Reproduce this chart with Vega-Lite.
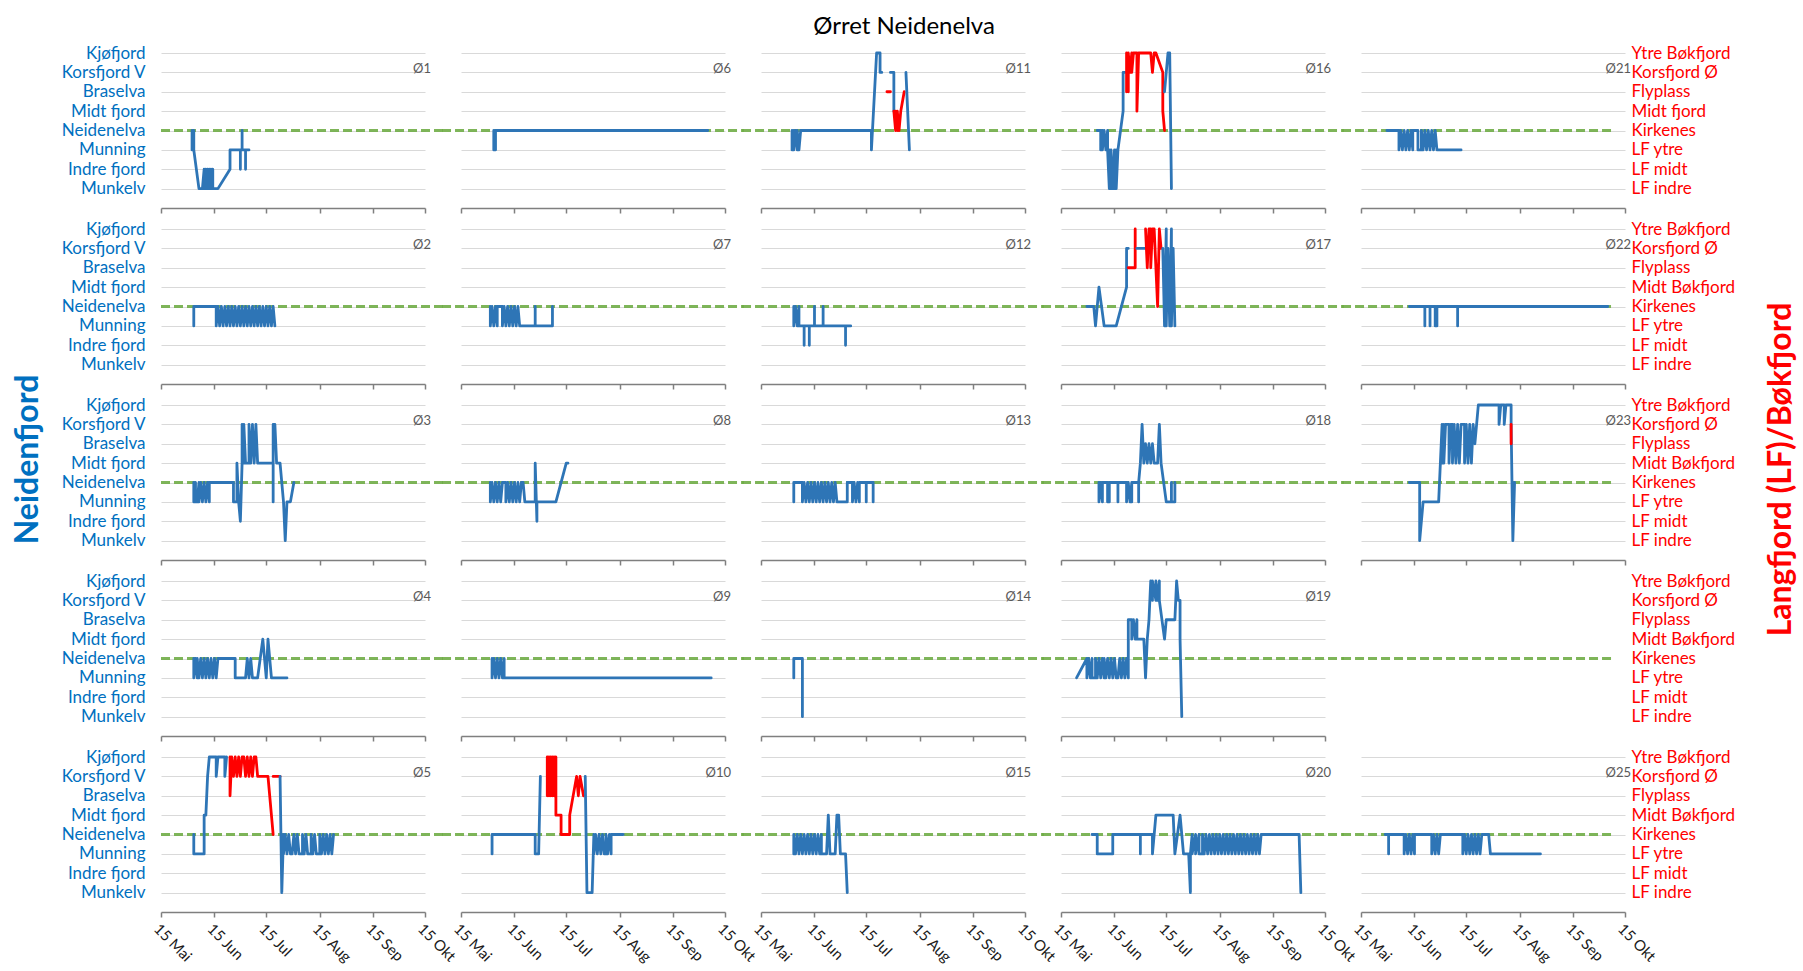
{
"$schema":"https://vega.github.io/schema/vega-lite/v6.json",
"background":"white",
"padding":{"left":11,"top":15,"right":0,"bottom":0},
"title":{"text":"Ørret Neidenelva","fontSize":24,"font":"Lato","fontWeight":"normal","color":"#000000","offset":5,"anchor":"middle"},
"data":{"format":{"parse":{"d":"date:'%m-%d'"}},"values":[
{"p":1,"g":1,"s":"N","d":"06-02","v":3},{"p":1,"g":1,"s":"N","d":"06-02","v":2},{"p":1,"g":1,"s":"N","d":"06-03","v":3},{"p":1,"g":1,"s":"N","d":"06-03","v":2},{"p":1,"g":1,"s":"N","d":"06-06","v":0},{"p":1,"g":1,"s":"N","d":"06-08","v":0},{"p":1,"g":1,"s":"N","d":"06-09","v":1},{"p":1,"g":1,"s":"N","d":"06-09","v":0},{"p":1,"g":1,"s":"N","d":"06-10","v":1},{"p":1,"g":1,"s":"N","d":"06-10","v":0},{"p":1,"g":1,"s":"N","d":"06-11","v":1},{"p":1,"g":1,"s":"N","d":"06-11","v":0},{"p":1,"g":1,"s":"N","d":"06-12","v":1},{"p":1,"g":1,"s":"N","d":"06-12","v":0},{"p":1,"g":1,"s":"N","d":"06-13","v":1},{"p":1,"g":1,"s":"N","d":"06-13","v":0},{"p":1,"g":1,"s":"N","d":"06-14","v":1},{"p":1,"g":1,"s":"N","d":"06-14","v":0},{"p":1,"g":1,"s":"N","d":"06-17","v":0},{"p":1,"g":1,"s":"N","d":"06-24","v":1},{"p":1,"g":1,"s":"N","d":"06-24","v":2},{"p":1,"g":1,"s":"N","d":"06-30","v":2},{"p":1,"g":1,"s":"N","d":"06-30","v":1},{"p":1,"g":1,"s":"N","d":"06-30","v":2},{"p":1,"g":1,"s":"N","d":"07-01","v":2},{"p":1,"g":1,"s":"N","d":"07-01","v":3},{"p":1,"g":1,"s":"N","d":"07-01","v":2},{"p":1,"g":1,"s":"N","d":"07-03","v":2},{"p":1,"g":1,"s":"N","d":"07-03","v":1},{"p":1,"g":1,"s":"N","d":"07-03","v":2},{"p":1,"g":1,"s":"N","d":"07-05","v":2},

{"p":6,"g":1,"s":"N","d":"06-03","v":3},{"p":6,"g":1,"s":"N","d":"06-03","v":2},{"p":6,"g":1,"s":"N","d":"06-04","v":3},{"p":6,"g":1,"s":"N","d":"06-04","v":2},{"p":6,"g":1,"s":"N","d":"06-04","v":3},{"p":6,"g":1,"s":"N","d":"10-05","v":3},

{"p":11,"g":1,"s":"N","d":"06-02","v":3},{"p":11,"g":1,"s":"N","d":"06-02","v":2},{"p":11,"g":1,"s":"N","d":"06-03","v":3},{"p":11,"g":1,"s":"N","d":"06-03","v":2},{"p":11,"g":1,"s":"N","d":"06-04","v":3},{"p":11,"g":1,"s":"N","d":"06-05","v":2},{"p":11,"g":1,"s":"N","d":"06-05","v":3},{"p":11,"g":1,"s":"N","d":"06-06","v":2},{"p":11,"g":1,"s":"N","d":"06-07","v":3},{"p":11,"g":1,"s":"N","d":"07-18","v":3},{"p":11,"g":1,"s":"N","d":"07-18","v":2},{"p":11,"g":1,"s":"N","d":"07-21","v":7},{"p":11,"g":1,"s":"N","d":"07-23","v":7},{"p":11,"g":1,"s":"N","d":"07-23","v":6},{"p":11,"g":1,"s":"N","d":"07-24","v":6},
{"p":11,"g":2,"s":"B","d":"07-27","v":5},{"p":11,"g":2,"s":"B","d":"07-29","v":5},
{"p":11,"g":3,"s":"N","d":"07-29","v":6},{"p":11,"g":3,"s":"N","d":"07-31","v":6},{"p":11,"g":3,"s":"N","d":"07-31","v":4},
{"p":11,"g":4,"s":"B","d":"07-31","v":4},{"p":11,"g":4,"s":"B","d":"08-01","v":3},{"p":11,"g":4,"s":"B","d":"08-01","v":4},{"p":11,"g":4,"s":"B","d":"08-02","v":3},{"p":11,"g":4,"s":"B","d":"08-02","v":4},{"p":11,"g":4,"s":"B","d":"08-03","v":3},{"p":11,"g":4,"s":"B","d":"08-04","v":4},{"p":11,"g":4,"s":"B","d":"08-06","v":5},
{"p":11,"g":5,"s":"N","d":"08-07","v":6},{"p":11,"g":5,"s":"N","d":"08-09","v":2},

{"p":16,"g":1,"s":"N","d":"06-05","v":3},{"p":16,"g":1,"s":"N","d":"06-07","v":3},{"p":16,"g":1,"s":"N","d":"06-07","v":2},{"p":16,"g":1,"s":"N","d":"06-08","v":3},{"p":16,"g":1,"s":"N","d":"06-08","v":2},{"p":16,"g":1,"s":"N","d":"06-09","v":3},{"p":16,"g":1,"s":"N","d":"06-10","v":2},{"p":16,"g":1,"s":"N","d":"06-11","v":3},{"p":16,"g":1,"s":"N","d":"06-11","v":2},{"p":16,"g":1,"s":"N","d":"06-12","v":0},{"p":16,"g":1,"s":"N","d":"06-12","v":2},{"p":16,"g":1,"s":"N","d":"06-13","v":0},{"p":16,"g":1,"s":"N","d":"06-13","v":2},{"p":16,"g":1,"s":"N","d":"06-14","v":0},{"p":16,"g":1,"s":"N","d":"06-15","v":2},{"p":16,"g":1,"s":"N","d":"06-15","v":0},{"p":16,"g":1,"s":"N","d":"06-16","v":2},{"p":16,"g":1,"s":"N","d":"06-16","v":0},{"p":16,"g":1,"s":"N","d":"06-17","v":2},{"p":16,"g":1,"s":"N","d":"06-20","v":4},{"p":16,"g":1,"s":"N","d":"06-20","v":6},{"p":16,"g":1,"s":"N","d":"06-21","v":6},
{"p":16,"g":2,"s":"B","d":"06-22","v":5},{"p":16,"g":2,"s":"B","d":"06-22","v":7},{"p":16,"g":2,"s":"B","d":"06-23","v":5},{"p":16,"g":2,"s":"B","d":"06-23","v":7},{"p":16,"g":2,"s":"B","d":"06-24","v":6},{"p":16,"g":2,"s":"B","d":"06-25","v":7},{"p":16,"g":2,"s":"B","d":"06-25","v":6},{"p":16,"g":2,"s":"B","d":"06-26","v":7},{"p":16,"g":2,"s":"B","d":"06-28","v":7},{"p":16,"g":2,"s":"B","d":"06-28","v":4},{"p":16,"g":2,"s":"B","d":"06-29","v":7},{"p":16,"g":2,"s":"B","d":"07-06","v":7},{"p":16,"g":2,"s":"B","d":"07-07","v":6},{"p":16,"g":2,"s":"B","d":"07-08","v":7},{"p":16,"g":2,"s":"B","d":"07-09","v":7},{"p":16,"g":2,"s":"B","d":"07-13","v":6},{"p":16,"g":2,"s":"B","d":"07-13","v":4},{"p":16,"g":2,"s":"B","d":"07-14","v":3},
{"p":16,"g":3,"s":"N","d":"07-14","v":5},{"p":16,"g":3,"s":"N","d":"07-16","v":7},{"p":16,"g":3,"s":"N","d":"07-17","v":7},{"p":16,"g":3,"s":"N","d":"07-18","v":0},

{"p":21,"g":1,"s":"N","d":"05-30","v":3},{"p":21,"g":1,"s":"N","d":"06-06","v":3},{"p":21,"g":1,"s":"N","d":"06-06","v":2},{"p":21,"g":1,"s":"N","d":"06-07","v":3},{"p":21,"g":1,"s":"N","d":"06-08","v":2},{"p":21,"g":1,"s":"N","d":"06-09","v":3},{"p":21,"g":1,"s":"N","d":"06-10","v":2},{"p":21,"g":1,"s":"N","d":"06-11","v":3},{"p":21,"g":1,"s":"N","d":"06-12","v":2},{"p":21,"g":1,"s":"N","d":"06-13","v":3},{"p":21,"g":1,"s":"N","d":"06-14","v":2},{"p":21,"g":1,"s":"N","d":"06-14","v":3},{"p":21,"g":1,"s":"N","d":"06-17","v":3},{"p":21,"g":1,"s":"N","d":"06-17","v":2},{"p":21,"g":1,"s":"N","d":"06-19","v":2},{"p":21,"g":1,"s":"N","d":"06-19","v":3},{"p":21,"g":1,"s":"N","d":"06-20","v":2},{"p":21,"g":1,"s":"N","d":"06-21","v":3},{"p":21,"g":1,"s":"N","d":"06-22","v":2},{"p":21,"g":1,"s":"N","d":"06-23","v":3},{"p":21,"g":1,"s":"N","d":"06-24","v":2},{"p":21,"g":1,"s":"N","d":"06-25","v":3},{"p":21,"g":1,"s":"N","d":"06-26","v":2},{"p":21,"g":1,"s":"N","d":"06-27","v":3},{"p":21,"g":1,"s":"N","d":"06-28","v":2},{"p":21,"g":1,"s":"N","d":"07-12","v":2},

{"p":2,"g":1,"s":"N","d":"06-03","v":2},{"p":2,"g":1,"s":"N","d":"06-03","v":3},{"p":2,"g":1,"s":"N","d":"06-16","v":3},{"p":2,"g":1,"s":"N","d":"06-16","v":2},{"p":2,"g":1,"s":"N","d":"06-17","v":3},{"p":2,"g":1,"s":"N","d":"06-18","v":2},{"p":2,"g":1,"s":"N","d":"06-19","v":3},{"p":2,"g":1,"s":"N","d":"06-20","v":2},{"p":2,"g":1,"s":"N","d":"06-21","v":3},{"p":2,"g":1,"s":"N","d":"06-22","v":2},{"p":2,"g":1,"s":"N","d":"06-23","v":3},{"p":2,"g":1,"s":"N","d":"06-24","v":2},{"p":2,"g":1,"s":"N","d":"06-25","v":3},{"p":2,"g":1,"s":"N","d":"06-26","v":2},{"p":2,"g":1,"s":"N","d":"06-27","v":3},{"p":2,"g":1,"s":"N","d":"06-28","v":2},{"p":2,"g":1,"s":"N","d":"06-29","v":3},{"p":2,"g":1,"s":"N","d":"06-30","v":2},{"p":2,"g":1,"s":"N","d":"07-01","v":3},{"p":2,"g":1,"s":"N","d":"07-02","v":2},{"p":2,"g":1,"s":"N","d":"07-03","v":3},{"p":2,"g":1,"s":"N","d":"07-04","v":2},{"p":2,"g":1,"s":"N","d":"07-05","v":3},{"p":2,"g":1,"s":"N","d":"07-06","v":2},{"p":2,"g":1,"s":"N","d":"07-07","v":3},{"p":2,"g":1,"s":"N","d":"07-08","v":2},{"p":2,"g":1,"s":"N","d":"07-09","v":3},{"p":2,"g":1,"s":"N","d":"07-10","v":2},{"p":2,"g":1,"s":"N","d":"07-11","v":3},{"p":2,"g":1,"s":"N","d":"07-12","v":2},{"p":2,"g":1,"s":"N","d":"07-13","v":3},{"p":2,"g":1,"s":"N","d":"07-14","v":2},{"p":2,"g":1,"s":"N","d":"07-15","v":3},{"p":2,"g":1,"s":"N","d":"07-16","v":2},{"p":2,"g":1,"s":"N","d":"07-17","v":3},{"p":2,"g":1,"s":"N","d":"07-18","v":2},{"p":2,"g":1,"s":"N","d":"07-19","v":3},{"p":2,"g":1,"s":"N","d":"07-20","v":2},

{"p":7,"g":1,"s":"N","d":"06-01","v":3},{"p":7,"g":1,"s":"N","d":"06-01","v":2},{"p":7,"g":1,"s":"N","d":"06-02","v":3},{"p":7,"g":1,"s":"N","d":"06-03","v":2},{"p":7,"g":1,"s":"N","d":"06-04","v":3},{"p":7,"g":1,"s":"N","d":"06-05","v":2},{"p":7,"g":1,"s":"N","d":"06-05","v":3},{"p":7,"g":1,"s":"N","d":"06-08","v":3},{"p":7,"g":1,"s":"N","d":"06-08","v":2},{"p":7,"g":1,"s":"N","d":"06-09","v":3},{"p":7,"g":1,"s":"N","d":"06-10","v":2},{"p":7,"g":1,"s":"N","d":"06-11","v":3},{"p":7,"g":1,"s":"N","d":"06-12","v":2},{"p":7,"g":1,"s":"N","d":"06-13","v":3},{"p":7,"g":1,"s":"N","d":"06-14","v":2},{"p":7,"g":1,"s":"N","d":"06-15","v":3},{"p":7,"g":1,"s":"N","d":"06-16","v":2},{"p":7,"g":1,"s":"N","d":"06-17","v":3},{"p":7,"g":1,"s":"N","d":"06-18","v":2},{"p":7,"g":1,"s":"N","d":"06-27","v":2},{"p":7,"g":1,"s":"N","d":"06-27","v":3},{"p":7,"g":1,"s":"N","d":"06-27","v":2},{"p":7,"g":1,"s":"N","d":"07-07","v":2},{"p":7,"g":1,"s":"N","d":"07-07","v":3},

{"p":12,"g":1,"s":"N","d":"06-03","v":3},{"p":12,"g":1,"s":"N","d":"06-03","v":2},{"p":12,"g":1,"s":"N","d":"06-04","v":3},{"p":12,"g":1,"s":"N","d":"06-05","v":2},{"p":12,"g":1,"s":"N","d":"06-06","v":3},{"p":12,"g":1,"s":"N","d":"06-06","v":2},{"p":12,"g":1,"s":"N","d":"06-09","v":2},{"p":12,"g":1,"s":"N","d":"06-09","v":1},{"p":12,"g":1,"s":"N","d":"06-09","v":2},{"p":12,"g":1,"s":"N","d":"06-12","v":2},{"p":12,"g":1,"s":"N","d":"06-12","v":1},{"p":12,"g":1,"s":"N","d":"06-12","v":2},{"p":12,"g":1,"s":"N","d":"06-15","v":2},{"p":12,"g":1,"s":"N","d":"06-15","v":3},{"p":12,"g":1,"s":"N","d":"06-15","v":2},{"p":12,"g":1,"s":"N","d":"06-20","v":2},{"p":12,"g":1,"s":"N","d":"06-20","v":3},{"p":12,"g":1,"s":"N","d":"06-20","v":2},{"p":12,"g":1,"s":"N","d":"07-03","v":2},{"p":12,"g":1,"s":"N","d":"07-03","v":1},{"p":12,"g":1,"s":"N","d":"07-03","v":2},{"p":12,"g":1,"s":"N","d":"07-06","v":2},

{"p":17,"g":1,"s":"N","d":"05-30","v":3},{"p":17,"g":1,"s":"N","d":"06-03","v":3},{"p":17,"g":1,"s":"N","d":"06-04","v":2},{"p":17,"g":1,"s":"N","d":"06-06","v":4},{"p":17,"g":1,"s":"N","d":"06-09","v":2},{"p":17,"g":1,"s":"N","d":"06-16","v":2},{"p":17,"g":1,"s":"N","d":"06-22","v":4},{"p":17,"g":1,"s":"N","d":"06-22","v":6},{"p":17,"g":1,"s":"N","d":"06-23","v":6},
{"p":17,"g":2,"s":"B","d":"06-23","v":5},{"p":17,"g":2,"s":"B","d":"06-27","v":5},{"p":17,"g":2,"s":"B","d":"06-27","v":7},
{"p":17,"g":3,"s":"N","d":"06-28","v":6},{"p":17,"g":3,"s":"N","d":"07-03","v":6},
{"p":17,"g":4,"s":"B","d":"07-03","v":7},{"p":17,"g":4,"s":"B","d":"07-04","v":5},{"p":17,"g":4,"s":"B","d":"07-05","v":7},{"p":17,"g":4,"s":"B","d":"07-06","v":7},{"p":17,"g":4,"s":"B","d":"07-06","v":5},{"p":17,"g":4,"s":"B","d":"07-07","v":7},{"p":17,"g":4,"s":"B","d":"07-08","v":7},{"p":17,"g":4,"s":"B","d":"07-09","v":5},{"p":17,"g":4,"s":"B","d":"07-10","v":3},{"p":17,"g":4,"s":"B","d":"07-11","v":7},{"p":17,"g":4,"s":"B","d":"07-12","v":6},
{"p":17,"g":5,"s":"N","d":"07-13","v":6},{"p":17,"g":5,"s":"N","d":"07-14","v":2},{"p":17,"g":5,"s":"N","d":"07-15","v":7},{"p":17,"g":5,"s":"N","d":"07-15","v":2},{"p":17,"g":5,"s":"N","d":"07-16","v":6},{"p":17,"g":5,"s":"N","d":"07-17","v":2},{"p":17,"g":5,"s":"N","d":"07-18","v":7},{"p":17,"g":5,"s":"N","d":"07-18","v":2},{"p":17,"g":5,"s":"N","d":"07-19","v":6},{"p":17,"g":5,"s":"N","d":"07-20","v":2},

{"p":22,"g":1,"s":"N","d":"06-12","v":3},{"p":22,"g":1,"s":"N","d":"06-21","v":3},{"p":22,"g":1,"s":"N","d":"06-21","v":2},{"p":22,"g":1,"s":"N","d":"06-21","v":3},{"p":22,"g":1,"s":"N","d":"06-24","v":3},{"p":22,"g":1,"s":"N","d":"06-24","v":2},{"p":22,"g":1,"s":"N","d":"06-24","v":3},{"p":22,"g":1,"s":"N","d":"06-27","v":3},{"p":22,"g":1,"s":"N","d":"06-27","v":2},{"p":22,"g":1,"s":"N","d":"06-28","v":2},{"p":22,"g":1,"s":"N","d":"06-28","v":3},{"p":22,"g":1,"s":"N","d":"07-10","v":3},{"p":22,"g":1,"s":"N","d":"07-10","v":2},{"p":22,"g":1,"s":"N","d":"07-10","v":3},{"p":22,"g":1,"s":"N","d":"10-05","v":3},

{"p":3,"g":1,"s":"N","d":"06-03","v":3},{"p":3,"g":1,"s":"N","d":"06-03","v":2},{"p":3,"g":1,"s":"N","d":"06-04","v":3},{"p":3,"g":1,"s":"N","d":"06-04","v":2},{"p":3,"g":1,"s":"N","d":"06-05","v":2},{"p":3,"g":1,"s":"N","d":"06-06","v":3},{"p":3,"g":1,"s":"N","d":"06-06","v":2},{"p":3,"g":1,"s":"N","d":"06-07","v":3},{"p":3,"g":1,"s":"N","d":"06-08","v":2},{"p":3,"g":1,"s":"N","d":"06-09","v":3},{"p":3,"g":1,"s":"N","d":"06-10","v":2},{"p":3,"g":1,"s":"N","d":"06-11","v":3},{"p":3,"g":1,"s":"N","d":"06-12","v":2},{"p":3,"g":1,"s":"N","d":"06-12","v":3},{"p":3,"g":1,"s":"N","d":"06-26","v":3},{"p":3,"g":1,"s":"N","d":"06-26","v":2},{"p":3,"g":1,"s":"N","d":"06-28","v":2},{"p":3,"g":1,"s":"N","d":"06-28","v":4},{"p":3,"g":1,"s":"N","d":"06-29","v":2},{"p":3,"g":1,"s":"N","d":"06-30","v":1},{"p":3,"g":1,"s":"N","d":"07-01","v":4},{"p":3,"g":1,"s":"N","d":"07-01","v":6},{"p":3,"g":1,"s":"N","d":"07-02","v":4},{"p":3,"g":1,"s":"N","d":"07-02","v":6},{"p":3,"g":1,"s":"N","d":"07-03","v":4},{"p":3,"g":1,"s":"N","d":"07-05","v":4},{"p":3,"g":1,"s":"N","d":"07-05","v":6},{"p":3,"g":1,"s":"N","d":"07-06","v":4},{"p":3,"g":1,"s":"N","d":"07-07","v":6},{"p":3,"g":1,"s":"N","d":"07-08","v":4},{"p":3,"g":1,"s":"N","d":"07-09","v":6},{"p":3,"g":1,"s":"N","d":"07-10","v":4},{"p":3,"g":1,"s":"N","d":"07-19","v":4},{"p":3,"g":1,"s":"N","d":"07-19","v":2},{"p":3,"g":1,"s":"N","d":"07-19","v":6},{"p":3,"g":1,"s":"N","d":"07-20","v":6},{"p":3,"g":1,"s":"N","d":"07-21","v":4},{"p":3,"g":1,"s":"N","d":"07-23","v":4},{"p":3,"g":1,"s":"N","d":"07-25","v":2},{"p":3,"g":1,"s":"N","d":"07-26","v":0},{"p":3,"g":1,"s":"N","d":"07-27","v":2},{"p":3,"g":1,"s":"N","d":"07-29","v":2},{"p":3,"g":1,"s":"N","d":"07-31","v":3},

{"p":8,"g":1,"s":"N","d":"06-01","v":3},{"p":8,"g":1,"s":"N","d":"06-01","v":2},{"p":8,"g":1,"s":"N","d":"06-02","v":3},{"p":8,"g":1,"s":"N","d":"06-03","v":2},{"p":8,"g":1,"s":"N","d":"06-04","v":3},{"p":8,"g":1,"s":"N","d":"06-05","v":2},{"p":8,"g":1,"s":"N","d":"06-06","v":3},{"p":8,"g":1,"s":"N","d":"06-07","v":2},{"p":8,"g":1,"s":"N","d":"06-08","v":3},{"p":8,"g":1,"s":"N","d":"06-10","v":3},{"p":8,"g":1,"s":"N","d":"06-10","v":2},{"p":8,"g":1,"s":"N","d":"06-11","v":3},{"p":8,"g":1,"s":"N","d":"06-12","v":2},{"p":8,"g":1,"s":"N","d":"06-13","v":3},{"p":8,"g":1,"s":"N","d":"06-14","v":2},{"p":8,"g":1,"s":"N","d":"06-15","v":3},{"p":8,"g":1,"s":"N","d":"06-16","v":2},{"p":8,"g":1,"s":"N","d":"06-17","v":3},{"p":8,"g":1,"s":"N","d":"06-18","v":2},{"p":8,"g":1,"s":"N","d":"06-19","v":3},{"p":8,"g":1,"s":"N","d":"06-20","v":3},{"p":8,"g":1,"s":"N","d":"06-21","v":2},{"p":8,"g":1,"s":"N","d":"06-27","v":2},{"p":8,"g":1,"s":"N","d":"06-27","v":4},{"p":8,"g":1,"s":"N","d":"06-28","v":1},{"p":8,"g":1,"s":"N","d":"06-28","v":2},{"p":8,"g":1,"s":"N","d":"07-09","v":2},{"p":8,"g":1,"s":"N","d":"07-15","v":4},{"p":8,"g":1,"s":"N","d":"07-16","v":4},

{"p":13,"g":1,"s":"N","d":"06-03","v":2},{"p":13,"g":1,"s":"N","d":"06-03","v":3},{"p":13,"g":1,"s":"N","d":"06-08","v":3},{"p":13,"g":1,"s":"N","d":"06-08","v":2},{"p":13,"g":1,"s":"N","d":"06-09","v":3},{"p":13,"g":1,"s":"N","d":"06-10","v":2},{"p":13,"g":1,"s":"N","d":"06-11","v":3},{"p":13,"g":1,"s":"N","d":"06-12","v":2},{"p":13,"g":1,"s":"N","d":"06-13","v":3},{"p":13,"g":1,"s":"N","d":"06-14","v":2},{"p":13,"g":1,"s":"N","d":"06-15","v":3},{"p":13,"g":1,"s":"N","d":"06-16","v":2},{"p":13,"g":1,"s":"N","d":"06-17","v":3},{"p":13,"g":1,"s":"N","d":"06-18","v":2},{"p":13,"g":1,"s":"N","d":"06-19","v":3},{"p":13,"g":1,"s":"N","d":"06-20","v":2},{"p":13,"g":1,"s":"N","d":"06-21","v":3},{"p":13,"g":1,"s":"N","d":"06-22","v":2},{"p":13,"g":1,"s":"N","d":"06-23","v":3},{"p":13,"g":1,"s":"N","d":"06-24","v":2},{"p":13,"g":1,"s":"N","d":"06-25","v":3},{"p":13,"g":1,"s":"N","d":"06-26","v":2},{"p":13,"g":1,"s":"N","d":"06-27","v":3},{"p":13,"g":1,"s":"N","d":"06-28","v":2},{"p":13,"g":1,"s":"N","d":"07-04","v":2},{"p":13,"g":1,"s":"N","d":"07-04","v":3},{"p":13,"g":1,"s":"N","d":"07-07","v":3},{"p":13,"g":1,"s":"N","d":"07-07","v":2},{"p":13,"g":1,"s":"N","d":"07-08","v":3},{"p":13,"g":1,"s":"N","d":"07-09","v":2},{"p":13,"g":1,"s":"N","d":"07-10","v":3},{"p":13,"g":1,"s":"N","d":"07-11","v":2},{"p":13,"g":1,"s":"N","d":"07-11","v":3},{"p":13,"g":1,"s":"N","d":"07-15","v":3},{"p":13,"g":1,"s":"N","d":"07-15","v":2},{"p":13,"g":1,"s":"N","d":"07-15","v":3},{"p":13,"g":1,"s":"N","d":"07-19","v":3},{"p":13,"g":1,"s":"N","d":"07-19","v":2},{"p":13,"g":1,"s":"N","d":"07-19","v":3},

{"p":18,"g":1,"s":"N","d":"06-06","v":3},{"p":18,"g":1,"s":"N","d":"06-06","v":2},{"p":18,"g":1,"s":"N","d":"06-07","v":3},{"p":18,"g":1,"s":"N","d":"06-08","v":2},{"p":18,"g":1,"s":"N","d":"06-08","v":3},{"p":18,"g":1,"s":"N","d":"06-11","v":3},{"p":18,"g":1,"s":"N","d":"06-11","v":2},{"p":18,"g":1,"s":"N","d":"06-12","v":2},{"p":18,"g":1,"s":"N","d":"06-12","v":3},{"p":18,"g":1,"s":"N","d":"06-17","v":3},{"p":18,"g":1,"s":"N","d":"06-17","v":2},{"p":18,"g":1,"s":"N","d":"06-17","v":3},{"p":18,"g":1,"s":"N","d":"06-22","v":3},{"p":18,"g":1,"s":"N","d":"06-22","v":2},{"p":18,"g":1,"s":"N","d":"06-23","v":3},{"p":18,"g":1,"s":"N","d":"06-24","v":2},{"p":18,"g":1,"s":"N","d":"06-25","v":3},{"p":18,"g":1,"s":"N","d":"06-25","v":2},{"p":18,"g":1,"s":"N","d":"06-25","v":3},{"p":18,"g":1,"s":"N","d":"06-29","v":3},{"p":18,"g":1,"s":"N","d":"06-29","v":2},{"p":18,"g":1,"s":"N","d":"06-29","v":3},{"p":18,"g":1,"s":"N","d":"06-30","v":4},{"p":18,"g":1,"s":"N","d":"07-01","v":6},{"p":18,"g":1,"s":"N","d":"07-02","v":4},{"p":18,"g":1,"s":"N","d":"07-03","v":5},{"p":18,"g":1,"s":"N","d":"07-04","v":4},{"p":18,"g":1,"s":"N","d":"07-05","v":5},{"p":18,"g":1,"s":"N","d":"07-06","v":4},{"p":18,"g":1,"s":"N","d":"07-07","v":5},{"p":18,"g":1,"s":"N","d":"07-08","v":4},{"p":18,"g":1,"s":"N","d":"07-10","v":4},{"p":18,"g":1,"s":"N","d":"07-11","v":6},{"p":18,"g":1,"s":"N","d":"07-12","v":4},{"p":18,"g":1,"s":"N","d":"07-15","v":2},{"p":18,"g":1,"s":"N","d":"07-18","v":2},{"p":18,"g":1,"s":"N","d":"07-18","v":3},{"p":18,"g":1,"s":"N","d":"07-18","v":2},{"p":18,"g":1,"s":"N","d":"07-20","v":2},{"p":18,"g":1,"s":"N","d":"07-20","v":3},

{"p":23,"g":1,"s":"N","d":"06-12","v":3},{"p":23,"g":1,"s":"N","d":"06-18","v":3},{"p":23,"g":1,"s":"N","d":"06-18","v":0},{"p":23,"g":1,"s":"N","d":"06-20","v":2},{"p":23,"g":1,"s":"N","d":"06-29","v":2},{"p":23,"g":1,"s":"N","d":"06-30","v":4},{"p":23,"g":1,"s":"N","d":"07-01","v":6},{"p":23,"g":1,"s":"N","d":"07-01","v":4},{"p":23,"g":1,"s":"N","d":"07-02","v":6},{"p":23,"g":1,"s":"N","d":"07-02","v":4},{"p":23,"g":1,"s":"N","d":"07-03","v":6},{"p":23,"g":1,"s":"N","d":"07-05","v":6},{"p":23,"g":1,"s":"N","d":"07-05","v":4},{"p":23,"g":1,"s":"N","d":"07-06","v":6},{"p":23,"g":1,"s":"N","d":"07-07","v":6},{"p":23,"g":1,"s":"N","d":"07-07","v":4},{"p":23,"g":1,"s":"N","d":"07-08","v":6},{"p":23,"g":1,"s":"N","d":"07-09","v":4},{"p":23,"g":1,"s":"N","d":"07-10","v":6},{"p":23,"g":1,"s":"N","d":"07-11","v":4},{"p":23,"g":1,"s":"N","d":"07-12","v":6},{"p":23,"g":1,"s":"N","d":"07-14","v":6},{"p":23,"g":1,"s":"N","d":"07-14","v":4},{"p":23,"g":1,"s":"N","d":"07-15","v":6},{"p":23,"g":1,"s":"N","d":"07-16","v":4},{"p":23,"g":1,"s":"N","d":"07-17","v":6},{"p":23,"g":1,"s":"N","d":"07-18","v":4},{"p":23,"g":1,"s":"N","d":"07-19","v":6},{"p":23,"g":1,"s":"N","d":"07-20","v":5},{"p":23,"g":1,"s":"N","d":"07-21","v":6},{"p":23,"g":1,"s":"N","d":"07-22","v":7},{"p":23,"g":1,"s":"N","d":"08-03","v":7},{"p":23,"g":1,"s":"N","d":"08-03","v":6},{"p":23,"g":1,"s":"N","d":"08-04","v":7},{"p":23,"g":1,"s":"N","d":"08-06","v":7},{"p":23,"g":1,"s":"N","d":"08-06","v":6},{"p":23,"g":1,"s":"N","d":"08-07","v":7},{"p":23,"g":1,"s":"N","d":"08-10","v":7},{"p":23,"g":1,"s":"N","d":"08-10","v":6},{"p":23,"g":1,"s":"N","d":"08-11","v":0},{"p":23,"g":1,"s":"N","d":"08-12","v":3},
{"p":23,"g":2,"s":"B","d":"08-10","v":6},{"p":23,"g":2,"s":"B","d":"08-10","v":5},

{"p":4,"g":1,"s":"N","d":"06-03","v":3},{"p":4,"g":1,"s":"N","d":"06-03","v":2},{"p":4,"g":1,"s":"N","d":"06-04","v":3},{"p":4,"g":1,"s":"N","d":"06-05","v":2},{"p":4,"g":1,"s":"N","d":"06-05","v":3},{"p":4,"g":1,"s":"N","d":"06-06","v":2},{"p":4,"g":1,"s":"N","d":"06-07","v":3},{"p":4,"g":1,"s":"N","d":"06-08","v":2},{"p":4,"g":1,"s":"N","d":"06-09","v":3},{"p":4,"g":1,"s":"N","d":"06-10","v":2},{"p":4,"g":1,"s":"N","d":"06-11","v":3},{"p":4,"g":1,"s":"N","d":"06-12","v":2},{"p":4,"g":1,"s":"N","d":"06-13","v":3},{"p":4,"g":1,"s":"N","d":"06-14","v":2},{"p":4,"g":1,"s":"N","d":"06-15","v":3},{"p":4,"g":1,"s":"N","d":"06-16","v":2},{"p":4,"g":1,"s":"N","d":"06-17","v":3},{"p":4,"g":1,"s":"N","d":"06-18","v":3},{"p":4,"g":1,"s":"N","d":"06-27","v":3},{"p":4,"g":1,"s":"N","d":"06-27","v":2},{"p":4,"g":1,"s":"N","d":"07-03","v":2},{"p":4,"g":1,"s":"N","d":"07-04","v":3},{"p":4,"g":1,"s":"N","d":"07-05","v":2},{"p":4,"g":1,"s":"N","d":"07-06","v":3},{"p":4,"g":1,"s":"N","d":"07-07","v":2},{"p":4,"g":1,"s":"N","d":"07-10","v":2},{"p":4,"g":1,"s":"N","d":"07-13","v":4},{"p":4,"g":1,"s":"N","d":"07-15","v":2},{"p":4,"g":1,"s":"N","d":"07-16","v":4},{"p":4,"g":1,"s":"N","d":"07-18","v":2},{"p":4,"g":1,"s":"N","d":"07-27","v":2},

{"p":9,"g":1,"s":"N","d":"06-02","v":3},{"p":9,"g":1,"s":"N","d":"06-02","v":2},{"p":9,"g":1,"s":"N","d":"06-03","v":3},{"p":9,"g":1,"s":"N","d":"06-04","v":2},{"p":9,"g":1,"s":"N","d":"06-05","v":3},{"p":9,"g":1,"s":"N","d":"06-06","v":2},{"p":9,"g":1,"s":"N","d":"06-07","v":3},{"p":9,"g":1,"s":"N","d":"06-08","v":2},{"p":9,"g":1,"s":"N","d":"06-09","v":3},{"p":9,"g":1,"s":"N","d":"06-09","v":2},{"p":9,"g":1,"s":"N","d":"10-07","v":2},

{"p":14,"g":1,"s":"N","d":"06-03","v":2},{"p":14,"g":1,"s":"N","d":"06-03","v":3},{"p":14,"g":1,"s":"N","d":"06-08","v":3},{"p":14,"g":1,"s":"N","d":"06-08","v":0},

{"p":19,"g":1,"s":"N","d":"05-24","v":2},{"p":19,"g":1,"s":"N","d":"05-30","v":3},{"p":19,"g":1,"s":"N","d":"05-30","v":2},{"p":19,"g":1,"s":"N","d":"05-31","v":3},{"p":19,"g":1,"s":"N","d":"06-01","v":2},{"p":19,"g":1,"s":"N","d":"06-02","v":3},{"p":19,"g":1,"s":"N","d":"06-02","v":2},{"p":19,"g":1,"s":"N","d":"06-04","v":2},{"p":19,"g":1,"s":"N","d":"06-04","v":3},{"p":19,"g":1,"s":"N","d":"06-05","v":2},{"p":19,"g":1,"s":"N","d":"06-06","v":3},{"p":19,"g":1,"s":"N","d":"06-07","v":2},{"p":19,"g":1,"s":"N","d":"06-08","v":3},{"p":19,"g":1,"s":"N","d":"06-09","v":2},{"p":19,"g":1,"s":"N","d":"06-09","v":3},{"p":19,"g":1,"s":"N","d":"06-10","v":2},{"p":19,"g":1,"s":"N","d":"06-11","v":3},{"p":19,"g":1,"s":"N","d":"06-12","v":2},{"p":19,"g":1,"s":"N","d":"06-13","v":3},{"p":19,"g":1,"s":"N","d":"06-14","v":2},{"p":19,"g":1,"s":"N","d":"06-15","v":3},{"p":19,"g":1,"s":"N","d":"06-16","v":2},{"p":19,"g":1,"s":"N","d":"06-17","v":2},{"p":19,"g":1,"s":"N","d":"06-18","v":3},{"p":19,"g":1,"s":"N","d":"06-19","v":2},{"p":19,"g":1,"s":"N","d":"06-20","v":3},{"p":19,"g":1,"s":"N","d":"06-21","v":2},{"p":19,"g":1,"s":"N","d":"06-22","v":3},{"p":19,"g":1,"s":"N","d":"06-23","v":2},{"p":19,"g":1,"s":"N","d":"06-23","v":5},{"p":19,"g":1,"s":"N","d":"06-25","v":5},{"p":19,"g":1,"s":"N","d":"06-25","v":4},{"p":19,"g":1,"s":"N","d":"06-26","v":5},{"p":19,"g":1,"s":"N","d":"06-27","v":4},{"p":19,"g":1,"s":"N","d":"06-28","v":5},{"p":19,"g":1,"s":"N","d":"06-28","v":4},{"p":19,"g":1,"s":"N","d":"07-02","v":4},{"p":19,"g":1,"s":"N","d":"07-03","v":2},{"p":19,"g":1,"s":"N","d":"07-04","v":4},{"p":19,"g":1,"s":"N","d":"07-05","v":5},{"p":19,"g":1,"s":"N","d":"07-06","v":7},{"p":19,"g":1,"s":"N","d":"07-07","v":6},{"p":19,"g":1,"s":"N","d":"07-07","v":7},{"p":19,"g":1,"s":"N","d":"07-09","v":6},{"p":19,"g":1,"s":"N","d":"07-09","v":7},{"p":19,"g":1,"s":"N","d":"07-10","v":6},{"p":19,"g":1,"s":"N","d":"07-11","v":7},{"p":19,"g":1,"s":"N","d":"07-11","v":6},{"p":19,"g":1,"s":"N","d":"07-14","v":4},{"p":19,"g":1,"s":"N","d":"07-15","v":5},{"p":19,"g":1,"s":"N","d":"07-20","v":5},{"p":19,"g":1,"s":"N","d":"07-21","v":7},{"p":19,"g":1,"s":"N","d":"07-22","v":6},{"p":19,"g":1,"s":"N","d":"07-23","v":6},{"p":19,"g":1,"s":"N","d":"07-23","v":4},{"p":19,"g":1,"s":"N","d":"07-24","v":0},

{"p":5,"g":1,"s":"N","d":"06-03","v":3},{"p":5,"g":1,"s":"N","d":"06-03","v":2},{"p":5,"g":1,"s":"N","d":"06-09","v":2},{"p":5,"g":1,"s":"N","d":"06-09","v":4},{"p":5,"g":1,"s":"N","d":"06-10","v":4},{"p":5,"g":1,"s":"N","d":"06-11","v":6},{"p":5,"g":1,"s":"N","d":"06-12","v":7},{"p":5,"g":1,"s":"N","d":"06-16","v":7},{"p":5,"g":1,"s":"N","d":"06-16","v":6},{"p":5,"g":1,"s":"N","d":"06-17","v":7},{"p":5,"g":1,"s":"N","d":"06-21","v":7},{"p":5,"g":1,"s":"N","d":"06-21","v":6},{"p":5,"g":1,"s":"N","d":"06-22","v":7},
{"p":5,"g":2,"s":"B","d":"06-24","v":7},{"p":5,"g":2,"s":"B","d":"06-24","v":5},{"p":5,"g":2,"s":"B","d":"06-25","v":7},{"p":5,"g":2,"s":"B","d":"06-26","v":6},{"p":5,"g":2,"s":"B","d":"06-27","v":7},{"p":5,"g":2,"s":"B","d":"06-28","v":6},{"p":5,"g":2,"s":"B","d":"06-29","v":7},{"p":5,"g":2,"s":"B","d":"06-30","v":6},{"p":5,"g":2,"s":"B","d":"07-01","v":7},{"p":5,"g":2,"s":"B","d":"07-02","v":7},{"p":5,"g":2,"s":"B","d":"07-03","v":6},{"p":5,"g":2,"s":"B","d":"07-04","v":7},{"p":5,"g":2,"s":"B","d":"07-05","v":6},{"p":5,"g":2,"s":"B","d":"07-06","v":7},{"p":5,"g":2,"s":"B","d":"07-07","v":6},{"p":5,"g":2,"s":"B","d":"07-08","v":7},{"p":5,"g":2,"s":"B","d":"07-09","v":7},{"p":5,"g":2,"s":"B","d":"07-10","v":6},{"p":5,"g":2,"s":"B","d":"07-16","v":6},{"p":5,"g":2,"s":"B","d":"07-19","v":3},
{"p":5,"g":3,"s":"B","d":"07-19","v":6},{"p":5,"g":3,"s":"B","d":"07-23","v":6},
{"p":5,"g":4,"s":"N","d":"07-23","v":6},{"p":5,"g":4,"s":"N","d":"07-24","v":0},{"p":5,"g":4,"s":"N","d":"07-25","v":3},{"p":5,"g":4,"s":"N","d":"07-25","v":2},{"p":5,"g":4,"s":"N","d":"07-26","v":3},{"p":5,"g":4,"s":"N","d":"07-27","v":2},{"p":5,"g":4,"s":"N","d":"07-28","v":3},{"p":5,"g":4,"s":"N","d":"07-29","v":2},{"p":5,"g":4,"s":"N","d":"07-30","v":2},{"p":5,"g":4,"s":"N","d":"07-31","v":3},{"p":5,"g":4,"s":"N","d":"08-01","v":2},{"p":5,"g":4,"s":"N","d":"08-02","v":3},{"p":5,"g":4,"s":"N","d":"08-03","v":2},{"p":5,"g":4,"s":"N","d":"08-05","v":2},{"p":5,"g":4,"s":"N","d":"08-05","v":3},{"p":5,"g":4,"s":"N","d":"08-06","v":2},{"p":5,"g":4,"s":"N","d":"08-07","v":3},{"p":5,"g":4,"s":"N","d":"08-08","v":2},{"p":5,"g":4,"s":"N","d":"08-10","v":2},{"p":5,"g":4,"s":"N","d":"08-10","v":3},{"p":5,"g":4,"s":"N","d":"08-11","v":2},{"p":5,"g":4,"s":"N","d":"08-12","v":3},{"p":5,"g":4,"s":"N","d":"08-13","v":2},{"p":5,"g":4,"s":"N","d":"08-15","v":2},{"p":5,"g":4,"s":"N","d":"08-15","v":3},{"p":5,"g":4,"s":"N","d":"08-16","v":2},{"p":5,"g":4,"s":"N","d":"08-17","v":3},{"p":5,"g":4,"s":"N","d":"08-18","v":2},{"p":5,"g":4,"s":"N","d":"08-19","v":3},{"p":5,"g":4,"s":"N","d":"08-20","v":2},{"p":5,"g":4,"s":"N","d":"08-21","v":3},{"p":5,"g":4,"s":"N","d":"08-22","v":2},{"p":5,"g":4,"s":"N","d":"08-23","v":3},

{"p":10,"g":1,"s":"N","d":"06-02","v":2},{"p":10,"g":1,"s":"N","d":"06-02","v":3},{"p":10,"g":1,"s":"N","d":"06-27","v":3},{"p":10,"g":1,"s":"N","d":"06-27","v":2},{"p":10,"g":1,"s":"N","d":"06-29","v":2},{"p":10,"g":1,"s":"N","d":"06-30","v":6},
{"p":10,"g":2,"s":"B","d":"07-04","v":7},{"p":10,"g":2,"s":"B","d":"07-04","v":5},{"p":10,"g":2,"s":"B","d":"07-05","v":7},{"p":10,"g":2,"s":"B","d":"07-05","v":5},{"p":10,"g":2,"s":"B","d":"07-06","v":7},{"p":10,"g":2,"s":"B","d":"07-06","v":5},{"p":10,"g":2,"s":"B","d":"07-07","v":7},{"p":10,"g":2,"s":"B","d":"07-07","v":5},{"p":10,"g":2,"s":"B","d":"07-08","v":7},{"p":10,"g":2,"s":"B","d":"07-08","v":5},{"p":10,"g":2,"s":"B","d":"07-09","v":7},{"p":10,"g":2,"s":"B","d":"07-09","v":4},{"p":10,"g":2,"s":"B","d":"07-12","v":4},{"p":10,"g":2,"s":"B","d":"07-12","v":3},{"p":10,"g":2,"s":"B","d":"07-17","v":3},{"p":10,"g":2,"s":"B","d":"07-17","v":4},{"p":10,"g":2,"s":"B","d":"07-21","v":6},{"p":10,"g":2,"s":"B","d":"07-22","v":5},{"p":10,"g":2,"s":"B","d":"07-23","v":6},{"p":10,"g":2,"s":"B","d":"07-25","v":5},
{"p":10,"g":3,"s":"N","d":"07-26","v":6},{"p":10,"g":3,"s":"N","d":"07-27","v":0},{"p":10,"g":3,"s":"N","d":"07-30","v":0},{"p":10,"g":3,"s":"N","d":"07-31","v":3},{"p":10,"g":3,"s":"N","d":"07-31","v":2},{"p":10,"g":3,"s":"N","d":"08-01","v":3},{"p":10,"g":3,"s":"N","d":"08-02","v":2},{"p":10,"g":3,"s":"N","d":"08-03","v":3},{"p":10,"g":3,"s":"N","d":"08-04","v":2},{"p":10,"g":3,"s":"N","d":"08-05","v":3},{"p":10,"g":3,"s":"N","d":"08-06","v":2},{"p":10,"g":3,"s":"N","d":"08-07","v":2},{"p":10,"g":3,"s":"N","d":"08-07","v":3},{"p":10,"g":3,"s":"N","d":"08-08","v":2},{"p":10,"g":3,"s":"N","d":"08-09","v":3},{"p":10,"g":3,"s":"N","d":"08-10","v":2},{"p":10,"g":3,"s":"N","d":"08-10","v":3},{"p":10,"g":3,"s":"N","d":"08-17","v":3},

{"p":15,"g":1,"s":"N","d":"06-03","v":2},{"p":15,"g":1,"s":"N","d":"06-03","v":3},{"p":15,"g":1,"s":"N","d":"06-04","v":2},{"p":15,"g":1,"s":"N","d":"06-05","v":3},{"p":15,"g":1,"s":"N","d":"06-06","v":2},{"p":15,"g":1,"s":"N","d":"06-07","v":3},{"p":15,"g":1,"s":"N","d":"06-08","v":2},{"p":15,"g":1,"s":"N","d":"06-09","v":3},{"p":15,"g":1,"s":"N","d":"06-10","v":2},{"p":15,"g":1,"s":"N","d":"06-11","v":3},{"p":15,"g":1,"s":"N","d":"06-12","v":2},{"p":15,"g":1,"s":"N","d":"06-13","v":3},{"p":15,"g":1,"s":"N","d":"06-14","v":2},{"p":15,"g":1,"s":"N","d":"06-15","v":3},{"p":15,"g":1,"s":"N","d":"06-16","v":2},{"p":15,"g":1,"s":"N","d":"06-17","v":3},{"p":15,"g":1,"s":"N","d":"06-18","v":2},{"p":15,"g":1,"s":"N","d":"06-19","v":3},{"p":15,"g":1,"s":"N","d":"06-19","v":2},{"p":15,"g":1,"s":"N","d":"06-22","v":2},{"p":15,"g":1,"s":"N","d":"06-23","v":4},{"p":15,"g":1,"s":"N","d":"06-24","v":2},{"p":15,"g":1,"s":"N","d":"06-27","v":2},{"p":15,"g":1,"s":"N","d":"06-28","v":4},{"p":15,"g":1,"s":"N","d":"06-29","v":4},{"p":15,"g":1,"s":"N","d":"06-30","v":2},{"p":15,"g":1,"s":"N","d":"07-03","v":2},{"p":15,"g":1,"s":"N","d":"07-04","v":0},

{"p":20,"g":1,"s":"N","d":"06-02","v":3},{"p":20,"g":1,"s":"N","d":"06-05","v":3},{"p":20,"g":1,"s":"N","d":"06-05","v":2},{"p":20,"g":1,"s":"N","d":"06-14","v":2},{"p":20,"g":1,"s":"N","d":"06-14","v":3},{"p":20,"g":1,"s":"N","d":"06-30","v":3},{"p":20,"g":1,"s":"N","d":"06-30","v":2},{"p":20,"g":1,"s":"N","d":"06-30","v":3},{"p":20,"g":1,"s":"N","d":"07-07","v":3},{"p":20,"g":1,"s":"N","d":"07-07","v":2},{"p":20,"g":1,"s":"N","d":"07-09","v":4},{"p":20,"g":1,"s":"N","d":"07-19","v":4},{"p":20,"g":1,"s":"N","d":"07-20","v":2},{"p":20,"g":1,"s":"N","d":"07-23","v":4},{"p":20,"g":1,"s":"N","d":"07-25","v":2},{"p":20,"g":1,"s":"N","d":"07-28","v":2},{"p":20,"g":1,"s":"N","d":"07-29","v":0},{"p":20,"g":1,"s":"N","d":"07-29","v":2},{"p":20,"g":1,"s":"N","d":"07-30","v":3},{"p":20,"g":1,"s":"N","d":"07-30","v":2},{"p":20,"g":1,"s":"N","d":"08-01","v":3},{"p":20,"g":1,"s":"N","d":"08-01","v":2},{"p":20,"g":1,"s":"N","d":"08-03","v":3},{"p":20,"g":1,"s":"N","d":"08-03","v":2},{"p":20,"g":1,"s":"N","d":"08-05","v":2},{"p":20,"g":1,"s":"N","d":"08-05","v":3},{"p":20,"g":1,"s":"N","d":"08-06","v":2},{"p":20,"g":1,"s":"N","d":"08-07","v":3},{"p":20,"g":1,"s":"N","d":"08-08","v":2},{"p":20,"g":1,"s":"N","d":"08-09","v":3},{"p":20,"g":1,"s":"N","d":"08-10","v":2},{"p":20,"g":1,"s":"N","d":"08-11","v":3},{"p":20,"g":1,"s":"N","d":"08-12","v":2},{"p":20,"g":1,"s":"N","d":"08-13","v":3},{"p":20,"g":1,"s":"N","d":"08-14","v":2},{"p":20,"g":1,"s":"N","d":"08-15","v":3},{"p":20,"g":1,"s":"N","d":"08-16","v":2},{"p":20,"g":1,"s":"N","d":"08-17","v":3},{"p":20,"g":1,"s":"N","d":"08-18","v":2},{"p":20,"g":1,"s":"N","d":"08-19","v":3},{"p":20,"g":1,"s":"N","d":"08-20","v":2},{"p":20,"g":1,"s":"N","d":"08-21","v":3},{"p":20,"g":1,"s":"N","d":"08-22","v":2},{"p":20,"g":1,"s":"N","d":"08-23","v":3},{"p":20,"g":1,"s":"N","d":"08-24","v":2},{"p":20,"g":1,"s":"N","d":"08-25","v":3},{"p":20,"g":1,"s":"N","d":"08-26","v":2},{"p":20,"g":1,"s":"N","d":"08-27","v":3},{"p":20,"g":1,"s":"N","d":"08-28","v":2},{"p":20,"g":1,"s":"N","d":"08-29","v":3},{"p":20,"g":1,"s":"N","d":"08-30","v":2},{"p":20,"g":1,"s":"N","d":"08-31","v":3},{"p":20,"g":1,"s":"N","d":"09-01","v":2},{"p":20,"g":1,"s":"N","d":"09-02","v":3},{"p":20,"g":1,"s":"N","d":"09-03","v":2},{"p":20,"g":1,"s":"N","d":"09-04","v":3},{"p":20,"g":1,"s":"N","d":"09-05","v":2},{"p":20,"g":1,"s":"N","d":"09-06","v":3},{"p":20,"g":1,"s":"N","d":"09-07","v":2},{"p":20,"g":1,"s":"N","d":"09-08","v":3},{"p":20,"g":1,"s":"N","d":"09-30","v":3},{"p":20,"g":1,"s":"N","d":"10-01","v":0},

{"p":25,"g":1,"s":"N","d":"05-29","v":3},{"p":25,"g":1,"s":"N","d":"05-31","v":3},{"p":25,"g":1,"s":"N","d":"05-31","v":2},{"p":25,"g":1,"s":"N","d":"05-31","v":3},{"p":25,"g":1,"s":"N","d":"06-09","v":3},{"p":25,"g":1,"s":"N","d":"06-09","v":2},{"p":25,"g":1,"s":"N","d":"06-10","v":3},{"p":25,"g":1,"s":"N","d":"06-11","v":2},{"p":25,"g":1,"s":"N","d":"06-12","v":3},{"p":25,"g":1,"s":"N","d":"06-13","v":2},{"p":25,"g":1,"s":"N","d":"06-14","v":3},{"p":25,"g":1,"s":"N","d":"06-15","v":2},{"p":25,"g":1,"s":"N","d":"06-15","v":3},{"p":25,"g":1,"s":"N","d":"06-25","v":3},{"p":25,"g":1,"s":"N","d":"06-25","v":2},{"p":25,"g":1,"s":"N","d":"06-26","v":3},{"p":25,"g":1,"s":"N","d":"06-27","v":2},{"p":25,"g":1,"s":"N","d":"06-28","v":3},{"p":25,"g":1,"s":"N","d":"06-29","v":2},{"p":25,"g":1,"s":"N","d":"06-30","v":3},{"p":25,"g":1,"s":"N","d":"07-13","v":3},{"p":25,"g":1,"s":"N","d":"07-13","v":2},{"p":25,"g":1,"s":"N","d":"07-14","v":3},{"p":25,"g":1,"s":"N","d":"07-15","v":2},{"p":25,"g":1,"s":"N","d":"07-16","v":3},{"p":25,"g":1,"s":"N","d":"07-17","v":2},{"p":25,"g":1,"s":"N","d":"07-18","v":3},{"p":25,"g":1,"s":"N","d":"07-19","v":2},{"p":25,"g":1,"s":"N","d":"07-20","v":3},{"p":25,"g":1,"s":"N","d":"07-21","v":2},{"p":25,"g":1,"s":"N","d":"07-22","v":3},{"p":25,"g":1,"s":"N","d":"07-23","v":2},{"p":25,"g":1,"s":"N","d":"07-24","v":3},{"p":25,"g":1,"s":"N","d":"07-28","v":3},{"p":25,"g":1,"s":"N","d":"07-29","v":2},{"p":25,"g":1,"s":"N","d":"08-27","v":2}
]},
"columns":5,
"spacing":{"row":21,"column":36},
"bounds":"flush",
"concat":[
{"width":264,"height":155,"transform":[{"filter":"datum.p==1"}],"resolve":{"axis":{"x":"independent","y":"independent"}},"layer":[
 {"data":{"values":[{}]},"mark":"rule","encoding":{"x":{"datum":{"year":1900,"month":5,"date":15},"type":"temporal","scale":{"domain":[{"year":1900,"month":5,"date":15},{"year":1900,"month":10,"date":15}],"nice":false},"axis":{"values":[{"year":1900,"month":5,"date":15},{"year":1900,"month":6,"date":15},{"year":1900,"month":7,"date":15},{"year":1900,"month":8,"date":15},{"year":1900,"month":9,"date":15},{"year":1900,"month":10,"date":15}],"labels":false,"title":null}},"x2":{"datum":{"year":1900,"month":10,"date":26}},"y":{"datum":3,"type":"quantitative","scale":{"domain":[-1,7],"nice":false},"axis":{"orient":"left","values":[0,1,2,3,4,5,6,7],"labelExpr":"['Munkelv','Indre fjord','Munning','Neidenelva','Midt fjord','Braselva','Korsfjord V','Kjøfjord'][datum.value]","labelColor":"#0070C0","labelPadding":16,"title":null}}}},
 {"mark":"line","encoding":{"x":{"field":"d","type":"temporal","axis":null},"y":{"field":"v","type":"quantitative","axis":null},"color":{"field":"s","type":"nominal","scale":{"domain":["N","B"],"range":["#2E75B6","#FF0000"]},"legend":null},"detail":{"field":"g"},"order":{"value":null}}},
 {"data":{"values":[{}]},"mark":{"type":"text","text":"Ø1"},"encoding":{"x":{"datum":{"year":1900,"month":10,"date":15},"type":"temporal","axis":null},"y":{"datum":6.2,"type":"quantitative","axis":null}}}
]},
{"width":264,"height":155,"transform":[{"filter":"datum.p==6"}],"resolve":{"axis":{"x":"independent","y":"independent"}},"layer":[
 {"data":{"values":[{}]},"mark":"rule","encoding":{"x":{"datum":{"year":1900,"month":5,"date":4},"type":"temporal","scale":{"domain":[{"year":1900,"month":5,"date":15},{"year":1900,"month":10,"date":15}],"nice":false},"axis":{"values":[{"year":1900,"month":5,"date":15},{"year":1900,"month":6,"date":15},{"year":1900,"month":7,"date":15},{"year":1900,"month":8,"date":15},{"year":1900,"month":9,"date":15},{"year":1900,"month":10,"date":15}],"labels":false,"title":null}},"x2":{"datum":{"year":1900,"month":10,"date":26}},"y":{"datum":3,"type":"quantitative","scale":{"domain":[-1,7],"nice":false},"axis":{"orient":"left","values":[0,1,2,3,4,5,6,7],"labels":false,"title":null}}}},
 {"mark":"line","encoding":{"x":{"field":"d","type":"temporal","axis":null},"y":{"field":"v","type":"quantitative","axis":null},"color":{"field":"s","type":"nominal","scale":{"domain":["N","B"],"range":["#2E75B6","#FF0000"]},"legend":null},"detail":{"field":"g"},"order":{"value":null}}},
 {"data":{"values":[{}]},"mark":{"type":"text","text":"Ø6"},"encoding":{"x":{"datum":{"year":1900,"month":10,"date":15},"type":"temporal","axis":null},"y":{"datum":6.2,"type":"quantitative","axis":null}}}
]},
{"width":264,"height":155,"transform":[{"filter":"datum.p==11"}],"resolve":{"axis":{"x":"independent","y":"independent"}},"layer":[
 {"data":{"values":[{}]},"mark":"rule","encoding":{"x":{"datum":{"year":1900,"month":5,"date":4},"type":"temporal","scale":{"domain":[{"year":1900,"month":5,"date":15},{"year":1900,"month":10,"date":15}],"nice":false},"axis":{"values":[{"year":1900,"month":5,"date":15},{"year":1900,"month":6,"date":15},{"year":1900,"month":7,"date":15},{"year":1900,"month":8,"date":15},{"year":1900,"month":9,"date":15},{"year":1900,"month":10,"date":15}],"labels":false,"title":null}},"x2":{"datum":{"year":1900,"month":10,"date":26}},"y":{"datum":3,"type":"quantitative","scale":{"domain":[-1,7],"nice":false},"axis":{"orient":"left","values":[0,1,2,3,4,5,6,7],"labels":false,"title":null}}}},
 {"mark":"line","encoding":{"x":{"field":"d","type":"temporal","axis":null},"y":{"field":"v","type":"quantitative","axis":null},"color":{"field":"s","type":"nominal","scale":{"domain":["N","B"],"range":["#2E75B6","#FF0000"]},"legend":null},"detail":{"field":"g"},"order":{"value":null}}},
 {"data":{"values":[{}]},"mark":{"type":"text","text":"Ø11"},"encoding":{"x":{"datum":{"year":1900,"month":10,"date":15},"type":"temporal","axis":null},"y":{"datum":6.2,"type":"quantitative","axis":null}}}
]},
{"width":264,"height":155,"transform":[{"filter":"datum.p==16"}],"resolve":{"axis":{"x":"independent","y":"independent"}},"layer":[
 {"data":{"values":[{}]},"mark":"rule","encoding":{"x":{"datum":{"year":1900,"month":5,"date":4},"type":"temporal","scale":{"domain":[{"year":1900,"month":5,"date":15},{"year":1900,"month":10,"date":15}],"nice":false},"axis":{"values":[{"year":1900,"month":5,"date":15},{"year":1900,"month":6,"date":15},{"year":1900,"month":7,"date":15},{"year":1900,"month":8,"date":15},{"year":1900,"month":9,"date":15},{"year":1900,"month":10,"date":15}],"labels":false,"title":null}},"x2":{"datum":{"year":1900,"month":10,"date":26}},"y":{"datum":3,"type":"quantitative","scale":{"domain":[-1,7],"nice":false},"axis":{"orient":"left","values":[0,1,2,3,4,5,6,7],"labels":false,"title":null}}}},
 {"mark":"line","encoding":{"x":{"field":"d","type":"temporal","axis":null},"y":{"field":"v","type":"quantitative","axis":null},"color":{"field":"s","type":"nominal","scale":{"domain":["N","B"],"range":["#2E75B6","#FF0000"]},"legend":null},"detail":{"field":"g"},"order":{"value":null}}},
 {"data":{"values":[{}]},"mark":{"type":"text","text":"Ø16"},"encoding":{"x":{"datum":{"year":1900,"month":10,"date":15},"type":"temporal","axis":null},"y":{"datum":6.2,"type":"quantitative","axis":null}}}
]},
{"width":264,"height":155,"transform":[{"filter":"datum.p==21"}],"resolve":{"axis":{"x":"independent","y":"independent"}},"layer":[
 {"data":{"values":[{}]},"mark":"rule","encoding":{"x":{"datum":{"year":1900,"month":5,"date":4},"type":"temporal","scale":{"domain":[{"year":1900,"month":5,"date":15},{"year":1900,"month":10,"date":15}],"nice":false},"axis":{"values":[{"year":1900,"month":5,"date":15},{"year":1900,"month":6,"date":15},{"year":1900,"month":7,"date":15},{"year":1900,"month":8,"date":15},{"year":1900,"month":9,"date":15},{"year":1900,"month":10,"date":15}],"labels":false,"title":null}},"x2":{"datum":{"year":1900,"month":10,"date":9}},"y":{"datum":3,"type":"quantitative","scale":{"domain":[-1,7],"nice":false},"axis":{"orient":"right","values":[0,1,2,3,4,5,6,7],"labelExpr":"['LF indre','LF midt','LF ytre','Kirkenes','Midt fjord','Flyplass','Korsfjord Ø','Ytre Bøkfjord'][datum.value]","labelColor":"#FF0000","labelPadding":6,"title":null}}}},
 {"mark":"line","encoding":{"x":{"field":"d","type":"temporal","axis":null},"y":{"field":"v","type":"quantitative","axis":null},"color":{"field":"s","type":"nominal","scale":{"domain":["N","B"],"range":["#2E75B6","#FF0000"]},"legend":null},"detail":{"field":"g"},"order":{"value":null}}},
 {"data":{"values":[{}]},"mark":{"type":"text","text":"Ø21"},"encoding":{"x":{"datum":{"year":1900,"month":10,"date":15},"type":"temporal","axis":null},"y":{"datum":6.2,"type":"quantitative","axis":null}}}
]},

{"width":264,"height":155,"transform":[{"filter":"datum.p==2"}],"resolve":{"axis":{"x":"independent","y":"independent"}},"layer":[
 {"data":{"values":[{}]},"mark":"rule","encoding":{"x":{"datum":{"year":1900,"month":5,"date":15},"type":"temporal","scale":{"domain":[{"year":1900,"month":5,"date":15},{"year":1900,"month":10,"date":15}],"nice":false},"axis":{"values":[{"year":1900,"month":5,"date":15},{"year":1900,"month":6,"date":15},{"year":1900,"month":7,"date":15},{"year":1900,"month":8,"date":15},{"year":1900,"month":9,"date":15},{"year":1900,"month":10,"date":15}],"labels":false,"title":null}},"x2":{"datum":{"year":1900,"month":10,"date":26}},"y":{"datum":3,"type":"quantitative","scale":{"domain":[-1,7],"nice":false},"axis":{"orient":"left","values":[0,1,2,3,4,5,6,7],"labelExpr":"['Munkelv','Indre fjord','Munning','Neidenelva','Midt fjord','Braselva','Korsfjord V','Kjøfjord'][datum.value]","labelColor":"#0070C0","labelPadding":16,"title":null}}}},
 {"mark":"line","encoding":{"x":{"field":"d","type":"temporal","axis":null},"y":{"field":"v","type":"quantitative","axis":null},"color":{"field":"s","type":"nominal","scale":{"domain":["N","B"],"range":["#2E75B6","#FF0000"]},"legend":null},"detail":{"field":"g"},"order":{"value":null}}},
 {"data":{"values":[{}]},"mark":{"type":"text","text":"Ø2"},"encoding":{"x":{"datum":{"year":1900,"month":10,"date":15},"type":"temporal","axis":null},"y":{"datum":6.2,"type":"quantitative","axis":null}}}
]},
{"width":264,"height":155,"transform":[{"filter":"datum.p==7"}],"resolve":{"axis":{"x":"independent","y":"independent"}},"layer":[
 {"data":{"values":[{}]},"mark":"rule","encoding":{"x":{"datum":{"year":1900,"month":5,"date":4},"type":"temporal","scale":{"domain":[{"year":1900,"month":5,"date":15},{"year":1900,"month":10,"date":15}],"nice":false},"axis":{"values":[{"year":1900,"month":5,"date":15},{"year":1900,"month":6,"date":15},{"year":1900,"month":7,"date":15},{"year":1900,"month":8,"date":15},{"year":1900,"month":9,"date":15},{"year":1900,"month":10,"date":15}],"labels":false,"title":null}},"x2":{"datum":{"year":1900,"month":10,"date":26}},"y":{"datum":3,"type":"quantitative","scale":{"domain":[-1,7],"nice":false},"axis":{"orient":"left","values":[0,1,2,3,4,5,6,7],"labels":false,"title":null}}}},
 {"mark":"line","encoding":{"x":{"field":"d","type":"temporal","axis":null},"y":{"field":"v","type":"quantitative","axis":null},"color":{"field":"s","type":"nominal","scale":{"domain":["N","B"],"range":["#2E75B6","#FF0000"]},"legend":null},"detail":{"field":"g"},"order":{"value":null}}},
 {"data":{"values":[{}]},"mark":{"type":"text","text":"Ø7"},"encoding":{"x":{"datum":{"year":1900,"month":10,"date":15},"type":"temporal","axis":null},"y":{"datum":6.2,"type":"quantitative","axis":null}}}
]},
{"width":264,"height":155,"transform":[{"filter":"datum.p==12"}],"resolve":{"axis":{"x":"independent","y":"independent"}},"layer":[
 {"data":{"values":[{}]},"mark":"rule","encoding":{"x":{"datum":{"year":1900,"month":5,"date":4},"type":"temporal","scale":{"domain":[{"year":1900,"month":5,"date":15},{"year":1900,"month":10,"date":15}],"nice":false},"axis":{"values":[{"year":1900,"month":5,"date":15},{"year":1900,"month":6,"date":15},{"year":1900,"month":7,"date":15},{"year":1900,"month":8,"date":15},{"year":1900,"month":9,"date":15},{"year":1900,"month":10,"date":15}],"labels":false,"title":null}},"x2":{"datum":{"year":1900,"month":10,"date":26}},"y":{"datum":3,"type":"quantitative","scale":{"domain":[-1,7],"nice":false},"axis":{"orient":"left","values":[0,1,2,3,4,5,6,7],"labels":false,"title":null}}}},
 {"mark":"line","encoding":{"x":{"field":"d","type":"temporal","axis":null},"y":{"field":"v","type":"quantitative","axis":null},"color":{"field":"s","type":"nominal","scale":{"domain":["N","B"],"range":["#2E75B6","#FF0000"]},"legend":null},"detail":{"field":"g"},"order":{"value":null}}},
 {"data":{"values":[{}]},"mark":{"type":"text","text":"Ø12"},"encoding":{"x":{"datum":{"year":1900,"month":10,"date":15},"type":"temporal","axis":null},"y":{"datum":6.2,"type":"quantitative","axis":null}}}
]},
{"width":264,"height":155,"transform":[{"filter":"datum.p==17"}],"resolve":{"axis":{"x":"independent","y":"independent"}},"layer":[
 {"data":{"values":[{}]},"mark":"rule","encoding":{"x":{"datum":{"year":1900,"month":5,"date":4},"type":"temporal","scale":{"domain":[{"year":1900,"month":5,"date":15},{"year":1900,"month":10,"date":15}],"nice":false},"axis":{"values":[{"year":1900,"month":5,"date":15},{"year":1900,"month":6,"date":15},{"year":1900,"month":7,"date":15},{"year":1900,"month":8,"date":15},{"year":1900,"month":9,"date":15},{"year":1900,"month":10,"date":15}],"labels":false,"title":null}},"x2":{"datum":{"year":1900,"month":10,"date":26}},"y":{"datum":3,"type":"quantitative","scale":{"domain":[-1,7],"nice":false},"axis":{"orient":"left","values":[0,1,2,3,4,5,6,7],"labels":false,"title":null}}}},
 {"mark":"line","encoding":{"x":{"field":"d","type":"temporal","axis":null},"y":{"field":"v","type":"quantitative","axis":null},"color":{"field":"s","type":"nominal","scale":{"domain":["N","B"],"range":["#2E75B6","#FF0000"]},"legend":null},"detail":{"field":"g"},"order":{"value":null}}},
 {"data":{"values":[{}]},"mark":{"type":"text","text":"Ø17"},"encoding":{"x":{"datum":{"year":1900,"month":10,"date":15},"type":"temporal","axis":null},"y":{"datum":6.2,"type":"quantitative","axis":null}}}
]},
{"width":264,"height":155,"transform":[{"filter":"datum.p==22"}],"resolve":{"axis":{"x":"independent","y":"independent"}},"layer":[
 {"data":{"values":[{}]},"mark":"rule","encoding":{"x":{"datum":{"year":1900,"month":5,"date":4},"type":"temporal","scale":{"domain":[{"year":1900,"month":5,"date":15},{"year":1900,"month":10,"date":15}],"nice":false},"axis":{"values":[{"year":1900,"month":5,"date":15},{"year":1900,"month":6,"date":15},{"year":1900,"month":7,"date":15},{"year":1900,"month":8,"date":15},{"year":1900,"month":9,"date":15},{"year":1900,"month":10,"date":15}],"labels":false,"title":null}},"x2":{"datum":{"year":1900,"month":10,"date":9}},"y":{"datum":3,"type":"quantitative","scale":{"domain":[-1,7],"nice":false},"axis":{"orient":"right","values":[0,1,2,3,4,5,6,7],"labelExpr":"['LF indre','LF midt','LF ytre','Kirkenes','Midt Bøkfjord','Flyplass','Korsfjord Ø','Ytre Bøkfjord'][datum.value]","labelColor":"#FF0000","labelPadding":6,"title":null}}}},
 {"mark":"line","encoding":{"x":{"field":"d","type":"temporal","axis":null},"y":{"field":"v","type":"quantitative","axis":null},"color":{"field":"s","type":"nominal","scale":{"domain":["N","B"],"range":["#2E75B6","#FF0000"]},"legend":null},"detail":{"field":"g"},"order":{"value":null}}},
 {"data":{"values":[{}]},"mark":{"type":"text","text":"Ø22"},"encoding":{"x":{"datum":{"year":1900,"month":10,"date":15},"type":"temporal","axis":null},"y":{"datum":6.2,"type":"quantitative","axis":null}}}
]},

{"width":264,"height":155,"transform":[{"filter":"datum.p==3"}],"resolve":{"axis":{"x":"independent","y":"independent"}},"layer":[
 {"data":{"values":[{}]},"mark":"rule","encoding":{"x":{"datum":{"year":1900,"month":5,"date":15},"type":"temporal","scale":{"domain":[{"year":1900,"month":5,"date":15},{"year":1900,"month":10,"date":15}],"nice":false},"axis":{"values":[{"year":1900,"month":5,"date":15},{"year":1900,"month":6,"date":15},{"year":1900,"month":7,"date":15},{"year":1900,"month":8,"date":15},{"year":1900,"month":9,"date":15},{"year":1900,"month":10,"date":15}],"labels":false,"title":null}},"x2":{"datum":{"year":1900,"month":10,"date":26}},"y":{"datum":3,"type":"quantitative","scale":{"domain":[-1,7],"nice":false},"axis":{"orient":"left","values":[0,1,2,3,4,5,6,7],"labelExpr":"['Munkelv','Indre fjord','Munning','Neidenelva','Midt fjord','Braselva','Korsfjord V','Kjøfjord'][datum.value]","labelColor":"#0070C0","labelPadding":16,"title":"Neidenfjord","titleColor":"#0070C0","titlePadding":16,"titleY":54}}}},
 {"mark":"line","encoding":{"x":{"field":"d","type":"temporal","axis":null},"y":{"field":"v","type":"quantitative","axis":null},"color":{"field":"s","type":"nominal","scale":{"domain":["N","B"],"range":["#2E75B6","#FF0000"]},"legend":null},"detail":{"field":"g"},"order":{"value":null}}},
 {"data":{"values":[{}]},"mark":{"type":"text","text":"Ø3"},"encoding":{"x":{"datum":{"year":1900,"month":10,"date":15},"type":"temporal","axis":null},"y":{"datum":6.2,"type":"quantitative","axis":null}}}
]},
{"width":264,"height":155,"transform":[{"filter":"datum.p==8"}],"resolve":{"axis":{"x":"independent","y":"independent"}},"layer":[
 {"data":{"values":[{}]},"mark":"rule","encoding":{"x":{"datum":{"year":1900,"month":5,"date":4},"type":"temporal","scale":{"domain":[{"year":1900,"month":5,"date":15},{"year":1900,"month":10,"date":15}],"nice":false},"axis":{"values":[{"year":1900,"month":5,"date":15},{"year":1900,"month":6,"date":15},{"year":1900,"month":7,"date":15},{"year":1900,"month":8,"date":15},{"year":1900,"month":9,"date":15},{"year":1900,"month":10,"date":15}],"labels":false,"title":null}},"x2":{"datum":{"year":1900,"month":10,"date":26}},"y":{"datum":3,"type":"quantitative","scale":{"domain":[-1,7],"nice":false},"axis":{"orient":"left","values":[0,1,2,3,4,5,6,7],"labels":false,"title":null}}}},
 {"mark":"line","encoding":{"x":{"field":"d","type":"temporal","axis":null},"y":{"field":"v","type":"quantitative","axis":null},"color":{"field":"s","type":"nominal","scale":{"domain":["N","B"],"range":["#2E75B6","#FF0000"]},"legend":null},"detail":{"field":"g"},"order":{"value":null}}},
 {"data":{"values":[{}]},"mark":{"type":"text","text":"Ø8"},"encoding":{"x":{"datum":{"year":1900,"month":10,"date":15},"type":"temporal","axis":null},"y":{"datum":6.2,"type":"quantitative","axis":null}}}
]},
{"width":264,"height":155,"transform":[{"filter":"datum.p==13"}],"resolve":{"axis":{"x":"independent","y":"independent"}},"layer":[
 {"data":{"values":[{}]},"mark":"rule","encoding":{"x":{"datum":{"year":1900,"month":5,"date":4},"type":"temporal","scale":{"domain":[{"year":1900,"month":5,"date":15},{"year":1900,"month":10,"date":15}],"nice":false},"axis":{"values":[{"year":1900,"month":5,"date":15},{"year":1900,"month":6,"date":15},{"year":1900,"month":7,"date":15},{"year":1900,"month":8,"date":15},{"year":1900,"month":9,"date":15},{"year":1900,"month":10,"date":15}],"labels":false,"title":null}},"x2":{"datum":{"year":1900,"month":10,"date":26}},"y":{"datum":3,"type":"quantitative","scale":{"domain":[-1,7],"nice":false},"axis":{"orient":"left","values":[0,1,2,3,4,5,6,7],"labels":false,"title":null}}}},
 {"mark":"line","encoding":{"x":{"field":"d","type":"temporal","axis":null},"y":{"field":"v","type":"quantitative","axis":null},"color":{"field":"s","type":"nominal","scale":{"domain":["N","B"],"range":["#2E75B6","#FF0000"]},"legend":null},"detail":{"field":"g"},"order":{"value":null}}},
 {"data":{"values":[{}]},"mark":{"type":"text","text":"Ø13"},"encoding":{"x":{"datum":{"year":1900,"month":10,"date":15},"type":"temporal","axis":null},"y":{"datum":6.2,"type":"quantitative","axis":null}}}
]},
{"width":264,"height":155,"transform":[{"filter":"datum.p==18"}],"resolve":{"axis":{"x":"independent","y":"independent"}},"layer":[
 {"data":{"values":[{}]},"mark":"rule","encoding":{"x":{"datum":{"year":1900,"month":5,"date":4},"type":"temporal","scale":{"domain":[{"year":1900,"month":5,"date":15},{"year":1900,"month":10,"date":15}],"nice":false},"axis":{"values":[{"year":1900,"month":5,"date":15},{"year":1900,"month":6,"date":15},{"year":1900,"month":7,"date":15},{"year":1900,"month":8,"date":15},{"year":1900,"month":9,"date":15},{"year":1900,"month":10,"date":15}],"labels":false,"title":null}},"x2":{"datum":{"year":1900,"month":10,"date":26}},"y":{"datum":3,"type":"quantitative","scale":{"domain":[-1,7],"nice":false},"axis":{"orient":"left","values":[0,1,2,3,4,5,6,7],"labels":false,"title":null}}}},
 {"mark":"line","encoding":{"x":{"field":"d","type":"temporal","axis":null},"y":{"field":"v","type":"quantitative","axis":null},"color":{"field":"s","type":"nominal","scale":{"domain":["N","B"],"range":["#2E75B6","#FF0000"]},"legend":null},"detail":{"field":"g"},"order":{"value":null}}},
 {"data":{"values":[{}]},"mark":{"type":"text","text":"Ø18"},"encoding":{"x":{"datum":{"year":1900,"month":10,"date":15},"type":"temporal","axis":null},"y":{"datum":6.2,"type":"quantitative","axis":null}}}
]},
{"width":264,"height":155,"transform":[{"filter":"datum.p==23"}],"resolve":{"axis":{"x":"independent","y":"independent"}},"layer":[
 {"data":{"values":[{}]},"mark":"rule","encoding":{"x":{"datum":{"year":1900,"month":5,"date":4},"type":"temporal","scale":{"domain":[{"year":1900,"month":5,"date":15},{"year":1900,"month":10,"date":15}],"nice":false},"axis":{"values":[{"year":1900,"month":5,"date":15},{"year":1900,"month":6,"date":15},{"year":1900,"month":7,"date":15},{"year":1900,"month":8,"date":15},{"year":1900,"month":9,"date":15},{"year":1900,"month":10,"date":15}],"labels":false,"title":null}},"x2":{"datum":{"year":1900,"month":10,"date":9}},"y":{"datum":3,"type":"quantitative","scale":{"domain":[-1,7],"nice":false},"axis":{"orient":"right","values":[0,1,2,3,4,5,6,7],"labelExpr":"['LF indre','LF midt','LF ytre','Kirkenes','Midt Bøkfjord','Flyplass','Korsfjord Ø','Ytre Bøkfjord'][datum.value]","labelColor":"#FF0000","labelPadding":6,"title":"Langfjord (LF)/Bøkfjord","titleColor":"#FF0000","titleAngle":270,"titlePadding":63,"titleY":64}}}},
 {"mark":"line","encoding":{"x":{"field":"d","type":"temporal","axis":null},"y":{"field":"v","type":"quantitative","axis":null},"color":{"field":"s","type":"nominal","scale":{"domain":["N","B"],"range":["#2E75B6","#FF0000"]},"legend":null},"detail":{"field":"g"},"order":{"value":null}}},
 {"data":{"values":[{}]},"mark":{"type":"text","text":"Ø23"},"encoding":{"x":{"datum":{"year":1900,"month":10,"date":15},"type":"temporal","axis":null},"y":{"datum":6.2,"type":"quantitative","axis":null}}}
]},

{"width":264,"height":155,"transform":[{"filter":"datum.p==4"}],"resolve":{"axis":{"x":"independent","y":"independent"}},"layer":[
 {"data":{"values":[{}]},"mark":"rule","encoding":{"x":{"datum":{"year":1900,"month":5,"date":15},"type":"temporal","scale":{"domain":[{"year":1900,"month":5,"date":15},{"year":1900,"month":10,"date":15}],"nice":false},"axis":{"values":[{"year":1900,"month":5,"date":15},{"year":1900,"month":6,"date":15},{"year":1900,"month":7,"date":15},{"year":1900,"month":8,"date":15},{"year":1900,"month":9,"date":15},{"year":1900,"month":10,"date":15}],"labels":false,"title":null}},"x2":{"datum":{"year":1900,"month":10,"date":26}},"y":{"datum":3,"type":"quantitative","scale":{"domain":[-1,7],"nice":false},"axis":{"orient":"left","values":[0,1,2,3,4,5,6,7],"labelExpr":"['Munkelv','Indre fjord','Munning','Neidenelva','Midt fjord','Braselva','Korsfjord V','Kjøfjord'][datum.value]","labelColor":"#0070C0","labelPadding":16,"title":null}}}},
 {"mark":"line","encoding":{"x":{"field":"d","type":"temporal","axis":null},"y":{"field":"v","type":"quantitative","axis":null},"color":{"field":"s","type":"nominal","scale":{"domain":["N","B"],"range":["#2E75B6","#FF0000"]},"legend":null},"detail":{"field":"g"},"order":{"value":null}}},
 {"data":{"values":[{}]},"mark":{"type":"text","text":"Ø4"},"encoding":{"x":{"datum":{"year":1900,"month":10,"date":15},"type":"temporal","axis":null},"y":{"datum":6.2,"type":"quantitative","axis":null}}}
]},
{"width":264,"height":155,"transform":[{"filter":"datum.p==9"}],"resolve":{"axis":{"x":"independent","y":"independent"}},"layer":[
 {"data":{"values":[{}]},"mark":"rule","encoding":{"x":{"datum":{"year":1900,"month":5,"date":4},"type":"temporal","scale":{"domain":[{"year":1900,"month":5,"date":15},{"year":1900,"month":10,"date":15}],"nice":false},"axis":{"values":[{"year":1900,"month":5,"date":15},{"year":1900,"month":6,"date":15},{"year":1900,"month":7,"date":15},{"year":1900,"month":8,"date":15},{"year":1900,"month":9,"date":15},{"year":1900,"month":10,"date":15}],"labels":false,"title":null}},"x2":{"datum":{"year":1900,"month":10,"date":26}},"y":{"datum":3,"type":"quantitative","scale":{"domain":[-1,7],"nice":false},"axis":{"orient":"left","values":[0,1,2,3,4,5,6,7],"labels":false,"title":null}}}},
 {"mark":"line","encoding":{"x":{"field":"d","type":"temporal","axis":null},"y":{"field":"v","type":"quantitative","axis":null},"color":{"field":"s","type":"nominal","scale":{"domain":["N","B"],"range":["#2E75B6","#FF0000"]},"legend":null},"detail":{"field":"g"},"order":{"value":null}}},
 {"data":{"values":[{}]},"mark":{"type":"text","text":"Ø9"},"encoding":{"x":{"datum":{"year":1900,"month":10,"date":15},"type":"temporal","axis":null},"y":{"datum":6.2,"type":"quantitative","axis":null}}}
]},
{"width":264,"height":155,"transform":[{"filter":"datum.p==14"}],"resolve":{"axis":{"x":"independent","y":"independent"}},"layer":[
 {"data":{"values":[{}]},"mark":"rule","encoding":{"x":{"datum":{"year":1900,"month":5,"date":4},"type":"temporal","scale":{"domain":[{"year":1900,"month":5,"date":15},{"year":1900,"month":10,"date":15}],"nice":false},"axis":{"values":[{"year":1900,"month":5,"date":15},{"year":1900,"month":6,"date":15},{"year":1900,"month":7,"date":15},{"year":1900,"month":8,"date":15},{"year":1900,"month":9,"date":15},{"year":1900,"month":10,"date":15}],"labels":false,"title":null}},"x2":{"datum":{"year":1900,"month":10,"date":26}},"y":{"datum":3,"type":"quantitative","scale":{"domain":[-1,7],"nice":false},"axis":{"orient":"left","values":[0,1,2,3,4,5,6,7],"labels":false,"title":null}}}},
 {"mark":"line","encoding":{"x":{"field":"d","type":"temporal","axis":null},"y":{"field":"v","type":"quantitative","axis":null},"color":{"field":"s","type":"nominal","scale":{"domain":["N","B"],"range":["#2E75B6","#FF0000"]},"legend":null},"detail":{"field":"g"},"order":{"value":null}}},
 {"data":{"values":[{}]},"mark":{"type":"text","text":"Ø14"},"encoding":{"x":{"datum":{"year":1900,"month":10,"date":15},"type":"temporal","axis":null},"y":{"datum":6.2,"type":"quantitative","axis":null}}}
]},
{"width":264,"height":155,"transform":[{"filter":"datum.p==19"}],"resolve":{"axis":{"x":"independent","y":"independent"}},"layer":[
 {"data":{"values":[{}]},"mark":"rule","encoding":{"x":{"datum":{"year":1900,"month":5,"date":4},"type":"temporal","scale":{"domain":[{"year":1900,"month":5,"date":15},{"year":1900,"month":10,"date":15}],"nice":false},"axis":{"values":[{"year":1900,"month":5,"date":15},{"year":1900,"month":6,"date":15},{"year":1900,"month":7,"date":15},{"year":1900,"month":8,"date":15},{"year":1900,"month":9,"date":15},{"year":1900,"month":10,"date":15}],"labels":false,"title":null}},"x2":{"datum":{"year":1900,"month":10,"date":26}},"y":{"datum":3,"type":"quantitative","scale":{"domain":[-1,7],"nice":false},"axis":{"orient":"left","values":[0,1,2,3,4,5,6,7],"labels":false,"title":null}}}},
 {"mark":"line","encoding":{"x":{"field":"d","type":"temporal","axis":null},"y":{"field":"v","type":"quantitative","axis":null},"color":{"field":"s","type":"nominal","scale":{"domain":["N","B"],"range":["#2E75B6","#FF0000"]},"legend":null},"detail":{"field":"g"},"order":{"value":null}}},
 {"data":{"values":[{}]},"mark":{"type":"text","text":"Ø19"},"encoding":{"x":{"datum":{"year":1900,"month":10,"date":15},"type":"temporal","axis":null},"y":{"datum":6.2,"type":"quantitative","axis":null}}}
]},
{"width":264,"height":155,"data":{"values":[{}]},"mark":"rule","encoding":{"x":{"datum":{"year":1900,"month":5,"date":4},"type":"temporal","scale":{"domain":[{"year":1900,"month":5,"date":15},{"year":1900,"month":10,"date":15}],"nice":false},"axis":null},"x2":{"datum":{"year":1900,"month":10,"date":9}},"y":{"datum":3,"type":"quantitative","scale":{"domain":[-1,7],"nice":false},"axis":{"orient":"right","grid":false,"values":[0,1,2,3,4,5,6,7],"labelExpr":"['LF indre','LF midt','LF ytre','Kirkenes','Midt Bøkfjord','Flyplass','Korsfjord Ø','Ytre Bøkfjord'][datum.value]","labelColor":"#FF0000","labelPadding":6,"title":null}}}},

{"width":264,"height":155,"transform":[{"filter":"datum.p==5"}],"resolve":{"axis":{"x":"independent","y":"independent"}},"layer":[
 {"data":{"values":[{}]},"mark":"rule","encoding":{"x":{"datum":{"year":1900,"month":5,"date":15},"type":"temporal","scale":{"domain":[{"year":1900,"month":5,"date":15},{"year":1900,"month":10,"date":15}],"nice":false},"axis":{"values":[{"year":1900,"month":5,"date":15},{"year":1900,"month":6,"date":15},{"year":1900,"month":7,"date":15},{"year":1900,"month":8,"date":15},{"year":1900,"month":9,"date":15},{"year":1900,"month":10,"date":15}],"labelExpr":"'15 ' + ['Jan','Feb','Mar','Apr','Mai','Jun','Jul','Aug','Sep','Okt','Nov','Des'][month(datum.value)]","title":null}},"x2":{"datum":{"year":1900,"month":10,"date":26}},"y":{"datum":3,"type":"quantitative","scale":{"domain":[-1,7],"nice":false},"axis":{"orient":"left","values":[0,1,2,3,4,5,6,7],"labelExpr":"['Munkelv','Indre fjord','Munning','Neidenelva','Midt fjord','Braselva','Korsfjord V','Kjøfjord'][datum.value]","labelColor":"#0070C0","labelPadding":16,"title":null}}}},
 {"mark":"line","encoding":{"x":{"field":"d","type":"temporal","axis":null},"y":{"field":"v","type":"quantitative","axis":null},"color":{"field":"s","type":"nominal","scale":{"domain":["N","B"],"range":["#2E75B6","#FF0000"]},"legend":null},"detail":{"field":"g"},"order":{"value":null}}},
 {"data":{"values":[{}]},"mark":{"type":"text","text":"Ø5"},"encoding":{"x":{"datum":{"year":1900,"month":10,"date":15},"type":"temporal","axis":null},"y":{"datum":6.2,"type":"quantitative","axis":null}}}
]},
{"width":264,"height":155,"transform":[{"filter":"datum.p==10"}],"resolve":{"axis":{"x":"independent","y":"independent"}},"layer":[
 {"data":{"values":[{}]},"mark":"rule","encoding":{"x":{"datum":{"year":1900,"month":5,"date":4},"type":"temporal","scale":{"domain":[{"year":1900,"month":5,"date":15},{"year":1900,"month":10,"date":15}],"nice":false},"axis":{"values":[{"year":1900,"month":5,"date":15},{"year":1900,"month":6,"date":15},{"year":1900,"month":7,"date":15},{"year":1900,"month":8,"date":15},{"year":1900,"month":9,"date":15},{"year":1900,"month":10,"date":15}],"labelExpr":"'15 ' + ['Jan','Feb','Mar','Apr','Mai','Jun','Jul','Aug','Sep','Okt','Nov','Des'][month(datum.value)]","title":null}},"x2":{"datum":{"year":1900,"month":10,"date":26}},"y":{"datum":3,"type":"quantitative","scale":{"domain":[-1,7],"nice":false},"axis":{"orient":"left","values":[0,1,2,3,4,5,6,7],"labels":false,"title":null}}}},
 {"mark":"line","encoding":{"x":{"field":"d","type":"temporal","axis":null},"y":{"field":"v","type":"quantitative","axis":null},"color":{"field":"s","type":"nominal","scale":{"domain":["N","B"],"range":["#2E75B6","#FF0000"]},"legend":null},"detail":{"field":"g"},"order":{"value":null}}},
 {"data":{"values":[{}]},"mark":{"type":"text","text":"Ø10"},"encoding":{"x":{"datum":{"year":1900,"month":10,"date":15},"type":"temporal","axis":null},"y":{"datum":6.2,"type":"quantitative","axis":null}}}
]},
{"width":264,"height":155,"transform":[{"filter":"datum.p==15"}],"resolve":{"axis":{"x":"independent","y":"independent"}},"layer":[
 {"data":{"values":[{}]},"mark":"rule","encoding":{"x":{"datum":{"year":1900,"month":5,"date":4},"type":"temporal","scale":{"domain":[{"year":1900,"month":5,"date":15},{"year":1900,"month":10,"date":15}],"nice":false},"axis":{"values":[{"year":1900,"month":5,"date":15},{"year":1900,"month":6,"date":15},{"year":1900,"month":7,"date":15},{"year":1900,"month":8,"date":15},{"year":1900,"month":9,"date":15},{"year":1900,"month":10,"date":15}],"labelExpr":"'15 ' + ['Jan','Feb','Mar','Apr','Mai','Jun','Jul','Aug','Sep','Okt','Nov','Des'][month(datum.value)]","title":null}},"x2":{"datum":{"year":1900,"month":10,"date":26}},"y":{"datum":3,"type":"quantitative","scale":{"domain":[-1,7],"nice":false},"axis":{"orient":"left","values":[0,1,2,3,4,5,6,7],"labels":false,"title":null}}}},
 {"mark":"line","encoding":{"x":{"field":"d","type":"temporal","axis":null},"y":{"field":"v","type":"quantitative","axis":null},"color":{"field":"s","type":"nominal","scale":{"domain":["N","B"],"range":["#2E75B6","#FF0000"]},"legend":null},"detail":{"field":"g"},"order":{"value":null}}},
 {"data":{"values":[{}]},"mark":{"type":"text","text":"Ø15"},"encoding":{"x":{"datum":{"year":1900,"month":10,"date":15},"type":"temporal","axis":null},"y":{"datum":6.2,"type":"quantitative","axis":null}}}
]},
{"width":264,"height":155,"transform":[{"filter":"datum.p==20"}],"resolve":{"axis":{"x":"independent","y":"independent"}},"layer":[
 {"data":{"values":[{}]},"mark":"rule","encoding":{"x":{"datum":{"year":1900,"month":5,"date":4},"type":"temporal","scale":{"domain":[{"year":1900,"month":5,"date":15},{"year":1900,"month":10,"date":15}],"nice":false},"axis":{"values":[{"year":1900,"month":5,"date":15},{"year":1900,"month":6,"date":15},{"year":1900,"month":7,"date":15},{"year":1900,"month":8,"date":15},{"year":1900,"month":9,"date":15},{"year":1900,"month":10,"date":15}],"labelExpr":"'15 ' + ['Jan','Feb','Mar','Apr','Mai','Jun','Jul','Aug','Sep','Okt','Nov','Des'][month(datum.value)]","title":null}},"x2":{"datum":{"year":1900,"month":10,"date":26}},"y":{"datum":3,"type":"quantitative","scale":{"domain":[-1,7],"nice":false},"axis":{"orient":"left","values":[0,1,2,3,4,5,6,7],"labels":false,"title":null}}}},
 {"mark":"line","encoding":{"x":{"field":"d","type":"temporal","axis":null},"y":{"field":"v","type":"quantitative","axis":null},"color":{"field":"s","type":"nominal","scale":{"domain":["N","B"],"range":["#2E75B6","#FF0000"]},"legend":null},"detail":{"field":"g"},"order":{"value":null}}},
 {"data":{"values":[{}]},"mark":{"type":"text","text":"Ø20"},"encoding":{"x":{"datum":{"year":1900,"month":10,"date":15},"type":"temporal","axis":null},"y":{"datum":6.2,"type":"quantitative","axis":null}}}
]},
{"width":264,"height":155,"transform":[{"filter":"datum.p==25"}],"resolve":{"axis":{"x":"independent","y":"independent"}},"layer":[
 {"data":{"values":[{}]},"mark":"rule","encoding":{"x":{"datum":{"year":1900,"month":5,"date":4},"type":"temporal","scale":{"domain":[{"year":1900,"month":5,"date":15},{"year":1900,"month":10,"date":15}],"nice":false},"axis":{"values":[{"year":1900,"month":5,"date":15},{"year":1900,"month":6,"date":15},{"year":1900,"month":7,"date":15},{"year":1900,"month":8,"date":15},{"year":1900,"month":9,"date":15},{"year":1900,"month":10,"date":15}],"labelExpr":"'15 ' + ['Jan','Feb','Mar','Apr','Mai','Jun','Jul','Aug','Sep','Okt','Nov','Des'][month(datum.value)]","title":null}},"x2":{"datum":{"year":1900,"month":10,"date":9}},"y":{"datum":3,"type":"quantitative","scale":{"domain":[-1,7],"nice":false},"axis":{"orient":"right","values":[0,1,2,3,4,5,6,7],"labelExpr":"['LF indre','LF midt','LF ytre','Kirkenes','Midt Bøkfjord','Flyplass','Korsfjord Ø','Ytre Bøkfjord'][datum.value]","labelColor":"#FF0000","labelPadding":6,"title":null}}}},
 {"mark":"line","encoding":{"x":{"field":"d","type":"temporal","axis":null},"y":{"field":"v","type":"quantitative","axis":null},"color":{"field":"s","type":"nominal","scale":{"domain":["N","B"],"range":["#2E75B6","#FF0000"]},"legend":null},"detail":{"field":"g"},"order":{"value":null}}},
 {"data":{"values":[{}]},"mark":{"type":"text","text":"Ø25"},"encoding":{"x":{"datum":{"year":1900,"month":10,"date":15},"type":"temporal","axis":null},"y":{"datum":6.2,"type":"quantitative","axis":null}}}
]}
],
"config":{
 "view":{"stroke":null},
 "font":"Lato",
 "rule":{"color":"#70AD47","strokeWidth":3,"strokeDash":[9,4],"opacity":0.9},
 "line":{"strokeWidth":2.8,"strokeJoin":"round","strokeCap":"round"},
 "text":{"align":"right","baseline":"middle","dx":6,"fontSize":13,"color":"#595959","font":"Lato"},
 "axisX":{"grid":false,"domainColor":"#7F7F7F","domainWidth":1.5,"tickColor":"#7F7F7F","tickWidth":1.5,"tickSize":5,"labelAngle":45,"labelFont":"Lato","labelFontSize":15,"labelColor":"#1a1a1a","labelFlush":false,"labelPadding":4,"labelOverlap":false},
 "axisY":{"grid":true,"gridColor":"#D9D9D9","gridWidth":1.2,"domain":false,"ticks":false,"labelFont":"Lato","labelFontSize":17,"labelOverlap":false,"titleFont":"Lato","titleFontSize":32,"titleFontWeight":"bold"}
}
}
